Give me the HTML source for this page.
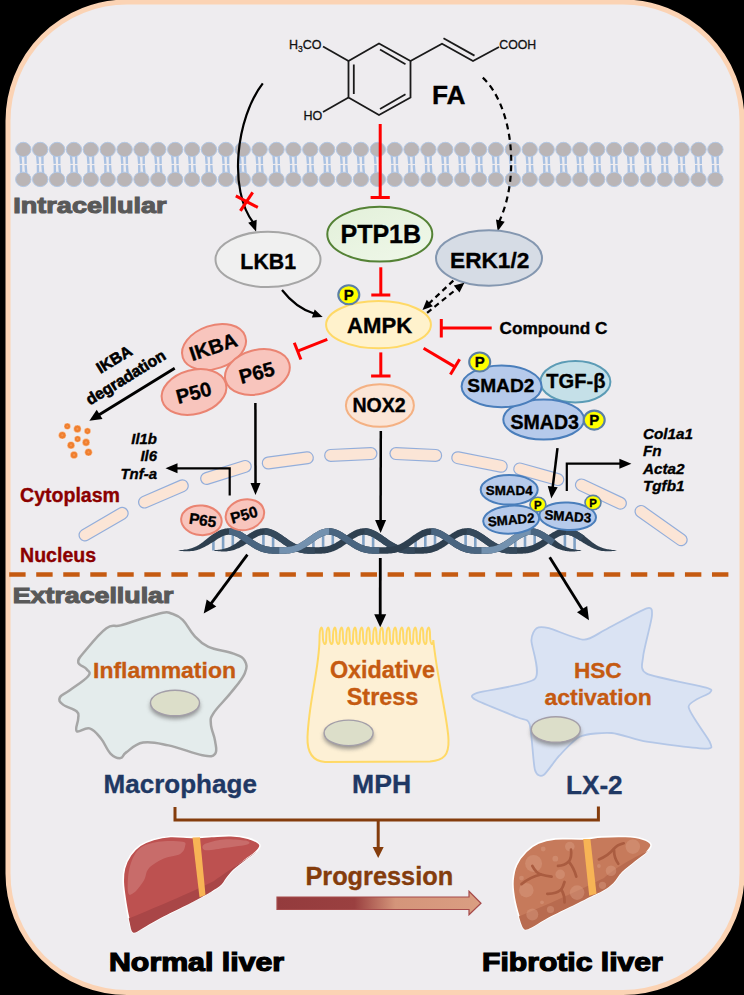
<!DOCTYPE html>
<html><head><meta charset="utf-8"><style>html,body{margin:0;padding:0;background:#000;width:744px;height:995px;overflow:hidden}svg{display:block}text{font-family:"Liberation Sans",sans-serif}</style></head>
<body><svg width="744" height="995" viewBox="0 0 744 995" font-family='"Liberation Sans", sans-serif'><rect x="0" y="0" width="744" height="995" fill="#000"/>
<rect x="8" y="2" width="734" height="990.5" rx="119" ry="119" fill="#EEECEF" stroke="#FBD3B4" stroke-width="5"/>
<path d="M20.3 155 L21.0 163.9 M21.0 165.1 L21.1 174" stroke="#A9C1E2" stroke-width="2.4" fill="none"/>
<path d="M25.5 155 L25.6 163.9 M25.6 165.1 L26.3 174" stroke="#A9C1E2" stroke-width="2.4" fill="none"/>
<path d="M37.2 155 L37.9 163.9 M37.9 165.1 L38.0 174" stroke="#A9C1E2" stroke-width="2.4" fill="none"/>
<path d="M42.4 155 L42.5 163.9 M42.5 165.1 L43.2 174" stroke="#A9C1E2" stroke-width="2.4" fill="none"/>
<path d="M54.1 155 L54.8 163.9 M54.8 165.1 L54.9 174" stroke="#A9C1E2" stroke-width="2.4" fill="none"/>
<path d="M59.3 155 L59.3 163.9 M59.3 165.1 L60.1 174" stroke="#A9C1E2" stroke-width="2.4" fill="none"/>
<path d="M70.9 155 L71.7 163.9 M71.7 165.1 L71.7 174" stroke="#A9C1E2" stroke-width="2.4" fill="none"/>
<path d="M76.1 155 L76.2 163.9 M76.2 165.1 L76.9 174" stroke="#A9C1E2" stroke-width="2.4" fill="none"/>
<path d="M87.8 155 L88.5 163.9 M88.5 165.1 L88.6 174" stroke="#A9C1E2" stroke-width="2.4" fill="none"/>
<path d="M93.0 155 L93.1 163.9 M93.1 165.1 L93.8 174" stroke="#A9C1E2" stroke-width="2.4" fill="none"/>
<path d="M104.7 155 L105.4 163.9 M105.4 165.1 L105.5 174" stroke="#A9C1E2" stroke-width="2.4" fill="none"/>
<path d="M109.9 155 L110.0 163.9 M110.0 165.1 L110.7 174" stroke="#A9C1E2" stroke-width="2.4" fill="none"/>
<path d="M121.6 155 L122.3 163.9 M122.3 165.1 L122.4 174" stroke="#A9C1E2" stroke-width="2.4" fill="none"/>
<path d="M126.8 155 L126.9 163.9 M126.9 165.1 L127.6 174" stroke="#A9C1E2" stroke-width="2.4" fill="none"/>
<path d="M138.5 155 L139.2 163.9 M139.2 165.1 L139.3 174" stroke="#A9C1E2" stroke-width="2.4" fill="none"/>
<path d="M143.7 155 L143.7 163.9 M143.7 165.1 L144.5 174" stroke="#A9C1E2" stroke-width="2.4" fill="none"/>
<path d="M155.3 155 L156.1 163.9 M156.1 165.1 L156.1 174" stroke="#A9C1E2" stroke-width="2.4" fill="none"/>
<path d="M160.5 155 L160.6 163.9 M160.6 165.1 L161.3 174" stroke="#A9C1E2" stroke-width="2.4" fill="none"/>
<path d="M172.2 155 L172.9 163.9 M172.9 165.1 L173.0 174" stroke="#A9C1E2" stroke-width="2.4" fill="none"/>
<path d="M177.4 155 L177.5 163.9 M177.5 165.1 L178.2 174" stroke="#A9C1E2" stroke-width="2.4" fill="none"/>
<path d="M189.1 155 L189.8 163.9 M189.8 165.1 L189.9 174" stroke="#A9C1E2" stroke-width="2.4" fill="none"/>
<path d="M194.3 155 L194.4 163.9 M194.4 165.1 L195.1 174" stroke="#A9C1E2" stroke-width="2.4" fill="none"/>
<path d="M206.0 155 L206.7 163.9 M206.7 165.1 L206.8 174" stroke="#A9C1E2" stroke-width="2.4" fill="none"/>
<path d="M211.2 155 L211.3 163.9 M211.3 165.1 L212.0 174" stroke="#A9C1E2" stroke-width="2.4" fill="none"/>
<path d="M222.9 155 L223.6 163.9 M223.6 165.1 L223.7 174" stroke="#A9C1E2" stroke-width="2.4" fill="none"/>
<path d="M228.1 155 L228.1 163.9 M228.1 165.1 L228.9 174" stroke="#A9C1E2" stroke-width="2.4" fill="none"/>
<path d="M239.7 155 L240.5 163.9 M240.5 165.1 L240.5 174" stroke="#A9C1E2" stroke-width="2.4" fill="none"/>
<path d="M244.9 155 L245.0 163.9 M245.0 165.1 L245.7 174" stroke="#A9C1E2" stroke-width="2.4" fill="none"/>
<path d="M256.6 155 L257.3 163.9 M257.3 165.1 L257.4 174" stroke="#A9C1E2" stroke-width="2.4" fill="none"/>
<path d="M261.8 155 L261.9 163.9 M261.9 165.1 L262.6 174" stroke="#A9C1E2" stroke-width="2.4" fill="none"/>
<path d="M273.5 155 L274.2 163.9 M274.2 165.1 L274.3 174" stroke="#A9C1E2" stroke-width="2.4" fill="none"/>
<path d="M278.7 155 L278.8 163.9 M278.8 165.1 L279.5 174" stroke="#A9C1E2" stroke-width="2.4" fill="none"/>
<path d="M290.4 155 L291.1 163.9 M291.1 165.1 L291.2 174" stroke="#A9C1E2" stroke-width="2.4" fill="none"/>
<path d="M295.6 155 L295.7 163.9 M295.7 165.1 L296.4 174" stroke="#A9C1E2" stroke-width="2.4" fill="none"/>
<path d="M307.3 155 L308.0 163.9 M308.0 165.1 L308.1 174" stroke="#A9C1E2" stroke-width="2.4" fill="none"/>
<path d="M312.5 155 L312.5 163.9 M312.5 165.1 L313.3 174" stroke="#A9C1E2" stroke-width="2.4" fill="none"/>
<path d="M324.1 155 L324.9 163.9 M324.9 165.1 L324.9 174" stroke="#A9C1E2" stroke-width="2.4" fill="none"/>
<path d="M329.3 155 L329.4 163.9 M329.4 165.1 L330.1 174" stroke="#A9C1E2" stroke-width="2.4" fill="none"/>
<path d="M341.0 155 L341.7 163.9 M341.7 165.1 L341.8 174" stroke="#A9C1E2" stroke-width="2.4" fill="none"/>
<path d="M346.2 155 L346.3 163.9 M346.3 165.1 L347.0 174" stroke="#A9C1E2" stroke-width="2.4" fill="none"/>
<path d="M357.9 155 L358.6 163.9 M358.6 165.1 L358.7 174" stroke="#A9C1E2" stroke-width="2.4" fill="none"/>
<path d="M363.1 155 L363.2 163.9 M363.2 165.1 L363.9 174" stroke="#A9C1E2" stroke-width="2.4" fill="none"/>
<path d="M374.8 155 L375.5 163.9 M375.5 165.1 L375.6 174" stroke="#A9C1E2" stroke-width="2.4" fill="none"/>
<path d="M380.0 155 L380.1 163.9 M380.1 165.1 L380.8 174" stroke="#A9C1E2" stroke-width="2.4" fill="none"/>
<path d="M391.7 155 L392.4 163.9 M392.4 165.1 L392.5 174" stroke="#A9C1E2" stroke-width="2.4" fill="none"/>
<path d="M396.9 155 L396.9 163.9 M396.9 165.1 L397.7 174" stroke="#A9C1E2" stroke-width="2.4" fill="none"/>
<path d="M408.5 155 L409.3 163.9 M409.3 165.1 L409.3 174" stroke="#A9C1E2" stroke-width="2.4" fill="none"/>
<path d="M413.7 155 L413.8 163.9 M413.8 165.1 L414.5 174" stroke="#A9C1E2" stroke-width="2.4" fill="none"/>
<path d="M425.4 155 L426.1 163.9 M426.1 165.1 L426.2 174" stroke="#A9C1E2" stroke-width="2.4" fill="none"/>
<path d="M430.6 155 L430.7 163.9 M430.7 165.1 L431.4 174" stroke="#A9C1E2" stroke-width="2.4" fill="none"/>
<path d="M442.3 155 L443.0 163.9 M443.0 165.1 L443.1 174" stroke="#A9C1E2" stroke-width="2.4" fill="none"/>
<path d="M447.5 155 L447.6 163.9 M447.6 165.1 L448.3 174" stroke="#A9C1E2" stroke-width="2.4" fill="none"/>
<path d="M459.2 155 L459.9 163.9 M459.9 165.1 L460.0 174" stroke="#A9C1E2" stroke-width="2.4" fill="none"/>
<path d="M464.4 155 L464.5 163.9 M464.5 165.1 L465.2 174" stroke="#A9C1E2" stroke-width="2.4" fill="none"/>
<path d="M476.1 155 L476.8 163.9 M476.8 165.1 L476.9 174" stroke="#A9C1E2" stroke-width="2.4" fill="none"/>
<path d="M481.3 155 L481.3 163.9 M481.3 165.1 L482.1 174" stroke="#A9C1E2" stroke-width="2.4" fill="none"/>
<path d="M492.9 155 L493.7 163.9 M493.7 165.1 L493.7 174" stroke="#A9C1E2" stroke-width="2.4" fill="none"/>
<path d="M498.1 155 L498.2 163.9 M498.2 165.1 L498.9 174" stroke="#A9C1E2" stroke-width="2.4" fill="none"/>
<path d="M509.8 155 L510.5 163.9 M510.5 165.1 L510.6 174" stroke="#A9C1E2" stroke-width="2.4" fill="none"/>
<path d="M515.0 155 L515.1 163.9 M515.1 165.1 L515.8 174" stroke="#A9C1E2" stroke-width="2.4" fill="none"/>
<path d="M526.7 155 L527.4 163.9 M527.4 165.1 L527.5 174" stroke="#A9C1E2" stroke-width="2.4" fill="none"/>
<path d="M531.9 155 L532.0 163.9 M532.0 165.1 L532.7 174" stroke="#A9C1E2" stroke-width="2.4" fill="none"/>
<path d="M543.6 155 L544.3 163.9 M544.3 165.1 L544.4 174" stroke="#A9C1E2" stroke-width="2.4" fill="none"/>
<path d="M548.8 155 L548.9 163.9 M548.9 165.1 L549.6 174" stroke="#A9C1E2" stroke-width="2.4" fill="none"/>
<path d="M560.5 155 L561.2 163.9 M561.2 165.1 L561.3 174" stroke="#A9C1E2" stroke-width="2.4" fill="none"/>
<path d="M565.7 155 L565.7 163.9 M565.7 165.1 L566.5 174" stroke="#A9C1E2" stroke-width="2.4" fill="none"/>
<path d="M577.3 155 L578.1 163.9 M578.1 165.1 L578.1 174" stroke="#A9C1E2" stroke-width="2.4" fill="none"/>
<path d="M582.5 155 L582.6 163.9 M582.6 165.1 L583.3 174" stroke="#A9C1E2" stroke-width="2.4" fill="none"/>
<path d="M594.2 155 L594.9 163.9 M594.9 165.1 L595.0 174" stroke="#A9C1E2" stroke-width="2.4" fill="none"/>
<path d="M599.4 155 L599.5 163.9 M599.5 165.1 L600.2 174" stroke="#A9C1E2" stroke-width="2.4" fill="none"/>
<path d="M611.1 155 L611.8 163.9 M611.8 165.1 L611.9 174" stroke="#A9C1E2" stroke-width="2.4" fill="none"/>
<path d="M616.3 155 L616.4 163.9 M616.4 165.1 L617.1 174" stroke="#A9C1E2" stroke-width="2.4" fill="none"/>
<path d="M628.0 155 L628.7 163.9 M628.7 165.1 L628.8 174" stroke="#A9C1E2" stroke-width="2.4" fill="none"/>
<path d="M633.2 155 L633.3 163.9 M633.3 165.1 L634.0 174" stroke="#A9C1E2" stroke-width="2.4" fill="none"/>
<path d="M644.9 155 L645.6 163.9 M645.6 165.1 L645.7 174" stroke="#A9C1E2" stroke-width="2.4" fill="none"/>
<path d="M650.1 155 L650.1 163.9 M650.1 165.1 L650.9 174" stroke="#A9C1E2" stroke-width="2.4" fill="none"/>
<path d="M661.7 155 L662.5 163.9 M662.5 165.1 L662.5 174" stroke="#A9C1E2" stroke-width="2.4" fill="none"/>
<path d="M666.9 155 L667.0 163.9 M667.0 165.1 L667.7 174" stroke="#A9C1E2" stroke-width="2.4" fill="none"/>
<path d="M678.6 155 L679.3 163.9 M679.3 165.1 L679.4 174" stroke="#A9C1E2" stroke-width="2.4" fill="none"/>
<path d="M683.8 155 L683.9 163.9 M683.9 165.1 L684.6 174" stroke="#A9C1E2" stroke-width="2.4" fill="none"/>
<path d="M695.5 155 L696.2 163.9 M696.2 165.1 L696.3 174" stroke="#A9C1E2" stroke-width="2.4" fill="none"/>
<path d="M700.7 155 L700.8 163.9 M700.8 165.1 L701.5 174" stroke="#A9C1E2" stroke-width="2.4" fill="none"/>
<path d="M712.4 155 L713.1 163.9 M713.1 165.1 L713.2 174" stroke="#A9C1E2" stroke-width="2.4" fill="none"/>
<path d="M717.6 155 L717.7 163.9 M717.7 165.1 L718.4 174" stroke="#A9C1E2" stroke-width="2.4" fill="none"/>
<ellipse cx="23.3" cy="149.5" rx="7.7" ry="7.2" fill="#BAB5B6" stroke="#B2C8E6" stroke-width="1"/>
<ellipse cx="23.3" cy="179.4" rx="7.7" ry="7.2" fill="#BAB5B6" stroke="#B2C8E6" stroke-width="1"/>
<ellipse cx="40.2" cy="149.5" rx="7.7" ry="7.2" fill="#BAB5B6" stroke="#B2C8E6" stroke-width="1"/>
<ellipse cx="40.2" cy="179.4" rx="7.7" ry="7.2" fill="#BAB5B6" stroke="#B2C8E6" stroke-width="1"/>
<ellipse cx="57.1" cy="149.5" rx="7.7" ry="7.2" fill="#BAB5B6" stroke="#B2C8E6" stroke-width="1"/>
<ellipse cx="57.1" cy="179.4" rx="7.7" ry="7.2" fill="#BAB5B6" stroke="#B2C8E6" stroke-width="1"/>
<ellipse cx="73.9" cy="149.5" rx="7.7" ry="7.2" fill="#BAB5B6" stroke="#B2C8E6" stroke-width="1"/>
<ellipse cx="73.9" cy="179.4" rx="7.7" ry="7.2" fill="#BAB5B6" stroke="#B2C8E6" stroke-width="1"/>
<ellipse cx="90.8" cy="149.5" rx="7.7" ry="7.2" fill="#BAB5B6" stroke="#B2C8E6" stroke-width="1"/>
<ellipse cx="90.8" cy="179.4" rx="7.7" ry="7.2" fill="#BAB5B6" stroke="#B2C8E6" stroke-width="1"/>
<ellipse cx="107.7" cy="149.5" rx="7.7" ry="7.2" fill="#BAB5B6" stroke="#B2C8E6" stroke-width="1"/>
<ellipse cx="107.7" cy="179.4" rx="7.7" ry="7.2" fill="#BAB5B6" stroke="#B2C8E6" stroke-width="1"/>
<ellipse cx="124.6" cy="149.5" rx="7.7" ry="7.2" fill="#BAB5B6" stroke="#B2C8E6" stroke-width="1"/>
<ellipse cx="124.6" cy="179.4" rx="7.7" ry="7.2" fill="#BAB5B6" stroke="#B2C8E6" stroke-width="1"/>
<ellipse cx="141.5" cy="149.5" rx="7.7" ry="7.2" fill="#BAB5B6" stroke="#B2C8E6" stroke-width="1"/>
<ellipse cx="141.5" cy="179.4" rx="7.7" ry="7.2" fill="#BAB5B6" stroke="#B2C8E6" stroke-width="1"/>
<ellipse cx="158.3" cy="149.5" rx="7.7" ry="7.2" fill="#BAB5B6" stroke="#B2C8E6" stroke-width="1"/>
<ellipse cx="158.3" cy="179.4" rx="7.7" ry="7.2" fill="#BAB5B6" stroke="#B2C8E6" stroke-width="1"/>
<ellipse cx="175.2" cy="149.5" rx="7.7" ry="7.2" fill="#BAB5B6" stroke="#B2C8E6" stroke-width="1"/>
<ellipse cx="175.2" cy="179.4" rx="7.7" ry="7.2" fill="#BAB5B6" stroke="#B2C8E6" stroke-width="1"/>
<ellipse cx="192.1" cy="149.5" rx="7.7" ry="7.2" fill="#BAB5B6" stroke="#B2C8E6" stroke-width="1"/>
<ellipse cx="192.1" cy="179.4" rx="7.7" ry="7.2" fill="#BAB5B6" stroke="#B2C8E6" stroke-width="1"/>
<ellipse cx="209.0" cy="149.5" rx="7.7" ry="7.2" fill="#BAB5B6" stroke="#B2C8E6" stroke-width="1"/>
<ellipse cx="209.0" cy="179.4" rx="7.7" ry="7.2" fill="#BAB5B6" stroke="#B2C8E6" stroke-width="1"/>
<ellipse cx="225.9" cy="149.5" rx="7.7" ry="7.2" fill="#BAB5B6" stroke="#B2C8E6" stroke-width="1"/>
<ellipse cx="225.9" cy="179.4" rx="7.7" ry="7.2" fill="#BAB5B6" stroke="#B2C8E6" stroke-width="1"/>
<ellipse cx="242.7" cy="149.5" rx="7.7" ry="7.2" fill="#BAB5B6" stroke="#B2C8E6" stroke-width="1"/>
<ellipse cx="242.7" cy="179.4" rx="7.7" ry="7.2" fill="#BAB5B6" stroke="#B2C8E6" stroke-width="1"/>
<ellipse cx="259.6" cy="149.5" rx="7.7" ry="7.2" fill="#BAB5B6" stroke="#B2C8E6" stroke-width="1"/>
<ellipse cx="259.6" cy="179.4" rx="7.7" ry="7.2" fill="#BAB5B6" stroke="#B2C8E6" stroke-width="1"/>
<ellipse cx="276.5" cy="149.5" rx="7.7" ry="7.2" fill="#BAB5B6" stroke="#B2C8E6" stroke-width="1"/>
<ellipse cx="276.5" cy="179.4" rx="7.7" ry="7.2" fill="#BAB5B6" stroke="#B2C8E6" stroke-width="1"/>
<ellipse cx="293.4" cy="149.5" rx="7.7" ry="7.2" fill="#BAB5B6" stroke="#B2C8E6" stroke-width="1"/>
<ellipse cx="293.4" cy="179.4" rx="7.7" ry="7.2" fill="#BAB5B6" stroke="#B2C8E6" stroke-width="1"/>
<ellipse cx="310.3" cy="149.5" rx="7.7" ry="7.2" fill="#BAB5B6" stroke="#B2C8E6" stroke-width="1"/>
<ellipse cx="310.3" cy="179.4" rx="7.7" ry="7.2" fill="#BAB5B6" stroke="#B2C8E6" stroke-width="1"/>
<ellipse cx="327.1" cy="149.5" rx="7.7" ry="7.2" fill="#BAB5B6" stroke="#B2C8E6" stroke-width="1"/>
<ellipse cx="327.1" cy="179.4" rx="7.7" ry="7.2" fill="#BAB5B6" stroke="#B2C8E6" stroke-width="1"/>
<ellipse cx="344.0" cy="149.5" rx="7.7" ry="7.2" fill="#BAB5B6" stroke="#B2C8E6" stroke-width="1"/>
<ellipse cx="344.0" cy="179.4" rx="7.7" ry="7.2" fill="#BAB5B6" stroke="#B2C8E6" stroke-width="1"/>
<ellipse cx="360.9" cy="149.5" rx="7.7" ry="7.2" fill="#BAB5B6" stroke="#B2C8E6" stroke-width="1"/>
<ellipse cx="360.9" cy="179.4" rx="7.7" ry="7.2" fill="#BAB5B6" stroke="#B2C8E6" stroke-width="1"/>
<ellipse cx="377.8" cy="149.5" rx="7.7" ry="7.2" fill="#BAB5B6" stroke="#B2C8E6" stroke-width="1"/>
<ellipse cx="377.8" cy="179.4" rx="7.7" ry="7.2" fill="#BAB5B6" stroke="#B2C8E6" stroke-width="1"/>
<ellipse cx="394.7" cy="149.5" rx="7.7" ry="7.2" fill="#BAB5B6" stroke="#B2C8E6" stroke-width="1"/>
<ellipse cx="394.7" cy="179.4" rx="7.7" ry="7.2" fill="#BAB5B6" stroke="#B2C8E6" stroke-width="1"/>
<ellipse cx="411.5" cy="149.5" rx="7.7" ry="7.2" fill="#BAB5B6" stroke="#B2C8E6" stroke-width="1"/>
<ellipse cx="411.5" cy="179.4" rx="7.7" ry="7.2" fill="#BAB5B6" stroke="#B2C8E6" stroke-width="1"/>
<ellipse cx="428.4" cy="149.5" rx="7.7" ry="7.2" fill="#BAB5B6" stroke="#B2C8E6" stroke-width="1"/>
<ellipse cx="428.4" cy="179.4" rx="7.7" ry="7.2" fill="#BAB5B6" stroke="#B2C8E6" stroke-width="1"/>
<ellipse cx="445.3" cy="149.5" rx="7.7" ry="7.2" fill="#BAB5B6" stroke="#B2C8E6" stroke-width="1"/>
<ellipse cx="445.3" cy="179.4" rx="7.7" ry="7.2" fill="#BAB5B6" stroke="#B2C8E6" stroke-width="1"/>
<ellipse cx="462.2" cy="149.5" rx="7.7" ry="7.2" fill="#BAB5B6" stroke="#B2C8E6" stroke-width="1"/>
<ellipse cx="462.2" cy="179.4" rx="7.7" ry="7.2" fill="#BAB5B6" stroke="#B2C8E6" stroke-width="1"/>
<ellipse cx="479.1" cy="149.5" rx="7.7" ry="7.2" fill="#BAB5B6" stroke="#B2C8E6" stroke-width="1"/>
<ellipse cx="479.1" cy="179.4" rx="7.7" ry="7.2" fill="#BAB5B6" stroke="#B2C8E6" stroke-width="1"/>
<ellipse cx="495.9" cy="149.5" rx="7.7" ry="7.2" fill="#BAB5B6" stroke="#B2C8E6" stroke-width="1"/>
<ellipse cx="495.9" cy="179.4" rx="7.7" ry="7.2" fill="#BAB5B6" stroke="#B2C8E6" stroke-width="1"/>
<ellipse cx="512.8" cy="149.5" rx="7.7" ry="7.2" fill="#BAB5B6" stroke="#B2C8E6" stroke-width="1"/>
<ellipse cx="512.8" cy="179.4" rx="7.7" ry="7.2" fill="#BAB5B6" stroke="#B2C8E6" stroke-width="1"/>
<ellipse cx="529.7" cy="149.5" rx="7.7" ry="7.2" fill="#BAB5B6" stroke="#B2C8E6" stroke-width="1"/>
<ellipse cx="529.7" cy="179.4" rx="7.7" ry="7.2" fill="#BAB5B6" stroke="#B2C8E6" stroke-width="1"/>
<ellipse cx="546.6" cy="149.5" rx="7.7" ry="7.2" fill="#BAB5B6" stroke="#B2C8E6" stroke-width="1"/>
<ellipse cx="546.6" cy="179.4" rx="7.7" ry="7.2" fill="#BAB5B6" stroke="#B2C8E6" stroke-width="1"/>
<ellipse cx="563.5" cy="149.5" rx="7.7" ry="7.2" fill="#BAB5B6" stroke="#B2C8E6" stroke-width="1"/>
<ellipse cx="563.5" cy="179.4" rx="7.7" ry="7.2" fill="#BAB5B6" stroke="#B2C8E6" stroke-width="1"/>
<ellipse cx="580.3" cy="149.5" rx="7.7" ry="7.2" fill="#BAB5B6" stroke="#B2C8E6" stroke-width="1"/>
<ellipse cx="580.3" cy="179.4" rx="7.7" ry="7.2" fill="#BAB5B6" stroke="#B2C8E6" stroke-width="1"/>
<ellipse cx="597.2" cy="149.5" rx="7.7" ry="7.2" fill="#BAB5B6" stroke="#B2C8E6" stroke-width="1"/>
<ellipse cx="597.2" cy="179.4" rx="7.7" ry="7.2" fill="#BAB5B6" stroke="#B2C8E6" stroke-width="1"/>
<ellipse cx="614.1" cy="149.5" rx="7.7" ry="7.2" fill="#BAB5B6" stroke="#B2C8E6" stroke-width="1"/>
<ellipse cx="614.1" cy="179.4" rx="7.7" ry="7.2" fill="#BAB5B6" stroke="#B2C8E6" stroke-width="1"/>
<ellipse cx="631.0" cy="149.5" rx="7.7" ry="7.2" fill="#BAB5B6" stroke="#B2C8E6" stroke-width="1"/>
<ellipse cx="631.0" cy="179.4" rx="7.7" ry="7.2" fill="#BAB5B6" stroke="#B2C8E6" stroke-width="1"/>
<ellipse cx="647.9" cy="149.5" rx="7.7" ry="7.2" fill="#BAB5B6" stroke="#B2C8E6" stroke-width="1"/>
<ellipse cx="647.9" cy="179.4" rx="7.7" ry="7.2" fill="#BAB5B6" stroke="#B2C8E6" stroke-width="1"/>
<ellipse cx="664.7" cy="149.5" rx="7.7" ry="7.2" fill="#BAB5B6" stroke="#B2C8E6" stroke-width="1"/>
<ellipse cx="664.7" cy="179.4" rx="7.7" ry="7.2" fill="#BAB5B6" stroke="#B2C8E6" stroke-width="1"/>
<ellipse cx="681.6" cy="149.5" rx="7.7" ry="7.2" fill="#BAB5B6" stroke="#B2C8E6" stroke-width="1"/>
<ellipse cx="681.6" cy="179.4" rx="7.7" ry="7.2" fill="#BAB5B6" stroke="#B2C8E6" stroke-width="1"/>
<ellipse cx="698.5" cy="149.5" rx="7.7" ry="7.2" fill="#BAB5B6" stroke="#B2C8E6" stroke-width="1"/>
<ellipse cx="698.5" cy="179.4" rx="7.7" ry="7.2" fill="#BAB5B6" stroke="#B2C8E6" stroke-width="1"/>
<ellipse cx="715.4" cy="149.5" rx="7.7" ry="7.2" fill="#BAB5B6" stroke="#B2C8E6" stroke-width="1"/>
<ellipse cx="715.4" cy="179.4" rx="7.7" ry="7.2" fill="#BAB5B6" stroke="#B2C8E6" stroke-width="1"/>
<polygon points="379,43.5 410.5,61 410.5,97.5 379,115 348.5,97.5 348.5,61" fill="none" stroke="#1A1A1A" stroke-width="1.8"/>
<line x1="353.8" y1="64.5" x2="353.8" y2="94.0" stroke="#1A1A1A" stroke-width="1.8" />
<line x1="380.0" y1="49.5" x2="405.5" y2="64.3" stroke="#1A1A1A" stroke-width="1.8" />
<line x1="405.5" y1="94.2" x2="380.0" y2="109.0" stroke="#1A1A1A" stroke-width="1.8" />
<line x1="348.5" y1="61.0" x2="323.0" y2="46.5" stroke="#1A1A1A" stroke-width="1.8" />
<line x1="348.5" y1="97.5" x2="323.0" y2="112.0" stroke="#1A1A1A" stroke-width="1.8" />
<polyline points="410.5,61 442,43.7 473,61 499,47" fill="none" stroke="#1A1A1A" stroke-width="1.8"/>
<line x1="443.5" y1="38.2" x2="474.5" y2="55.6" stroke="#1A1A1A" stroke-width="1.8" />
<text x="289" y="48.5" font-size="12.5" fill="#111" stroke="#111" stroke-width="0.3">H<tspan font-size="8.5" dy="3">3</tspan><tspan dy="-3">CO</tspan></text>
<text x="303.5" y="120.0" font-size="12.5" font-weight="normal" font-style="normal" fill="#111" text-anchor="start" stroke="#111" stroke-width="0.3">HO</text>
<text x="499.3" y="48.5" font-size="12.3" font-weight="normal" font-style="normal" fill="#111" text-anchor="start" stroke="#111" stroke-width="0.3">COOH</text>
<text x="432.0" y="104.3" font-size="26.27" font-weight="bold" font-style="normal" fill="#000" text-anchor="start"  stroke="#000" stroke-width="0.35">FA</text>
<path d="M262.8 83.4 C236 118, 228 190, 253.5 223" fill="none" stroke="#000" stroke-width="2.2"/>
<polygon points="256.1,231.7 248.2,222.8 256.7,219.8" fill="#000"/>
<line x1="235.8" y1="195.9" x2="257.8" y2="207.4" stroke="#FF0000" stroke-width="3" />
<line x1="240.4" y1="210.9" x2="252.7" y2="192.4" stroke="#FF0000" stroke-width="3" />
<line x1="380.2" y1="124.0" x2="380.2" y2="197.5" stroke="#FF0000" stroke-width="3" />
<line x1="370.6" y1="197.5" x2="389.8" y2="197.5" stroke="#FF0000" stroke-width="3" />
<path d="M482.8 77.6 C512 105, 521 175, 499 222" fill="none" stroke="#000" stroke-width="2.2" stroke-dasharray="6,4.5"/>
<polygon points="497.7,231.3 496.0,219.5 504.7,221.7" fill="#000"/>
<defs><linearGradient id="gG" x1="0" y1="0" x2="1" y2="1"><stop offset="0" stop-color="#E2F0D9"/><stop offset="1" stop-color="#F0F8EA"/></linearGradient></defs>
<ellipse cx="268" cy="259.4" rx="52.5" ry="27.7" fill="#F0F0F0" stroke="#A6A6A6" stroke-width="2" />
<text x="268.2" y="268.7" font-size="21.32" font-weight="bold" font-style="normal" fill="#000" text-anchor="middle"  stroke="#000" stroke-width="0.35">LKB1</text>
<ellipse cx="379.8" cy="234.2" rx="52.5" ry="27.4" fill="url(#gG)" stroke="#548235" stroke-width="2" />
<text x="380.8" y="242.6" font-size="25.03" font-weight="bold" font-style="normal" fill="#000" text-anchor="middle"  stroke="#000" stroke-width="0.35">PTP1B</text>
<ellipse cx="489" cy="258" rx="53" ry="27.7" fill="#D6DCE5" stroke="#8497B0" stroke-width="2" />
<text x="489.7" y="267.5" font-size="22.66" font-weight="bold" font-style="normal" fill="#000" text-anchor="middle"  stroke="#000" stroke-width="0.35">ERK1/2</text>
<line x1="380.8" y1="267.3" x2="380.8" y2="295.0" stroke="#FF0000" stroke-width="3" />
<line x1="371.3" y1="295.0" x2="390.3" y2="295.0" stroke="#FF0000" stroke-width="3" />
<ellipse cx="378.5" cy="324.7" rx="52.4" ry="23.6" fill="#FFF2CC" stroke="#FFD966" stroke-width="2" />
<text x="379.7" y="332.6" font-size="22.14" font-weight="bold" font-style="normal" fill="#000" text-anchor="middle"  stroke="#000" stroke-width="0.35">AMPK</text>
<ellipse cx="348.8" cy="294.8" rx="10.50" ry="9.50" fill="#FFFF00" stroke="#5B7FA6" stroke-width="2.1"/>
<text x="348.8" y="300.0" font-size="14.94" font-weight="bold" font-style="normal" fill="#000" text-anchor="middle"  stroke="#000" stroke-width="0.35">P</text>
<path d="M282 290 Q296 308 314 313.5" fill="none" stroke="#000" stroke-width="2.2"/>
<polygon points="322.7,316.9 311.9,317.6 314.7,309.6" fill="#000"/>
<line x1="453.3" y1="280.6" x2="429" y2="303.5" stroke="#000" stroke-width="2.2" stroke-dasharray="5.5,4"/>
<polygon points="422.5,309.9 426.7,299.8 432.9,306.3" fill="#000"/>
<line x1="427.1" y1="312.9" x2="457.5" y2="288.3" stroke="#000" stroke-width="2.2" stroke-dasharray="5.5,4"/>
<polygon points="464.4,282.7 459.5,292.5 453.8,285.5" fill="#000"/>
<line x1="441.3" y1="328.0" x2="491.7" y2="328.0" stroke="#FF0000" stroke-width="3" />
<line x1="441.3" y1="319.0" x2="441.3" y2="337.5" stroke="#FF0000" stroke-width="3" />
<text x="499.5" y="334.0" font-size="17.2" font-weight="bold" font-style="normal" fill="#000" text-anchor="start"  stroke="#000" stroke-width="0.35">Compound C</text>
<line x1="380.8" y1="352.4" x2="380.8" y2="376.0" stroke="#FF0000" stroke-width="3" />
<line x1="371.1" y1="376.0" x2="390.5" y2="376.0" stroke="#FF0000" stroke-width="3" />
<ellipse cx="379.9" cy="405.5" rx="34" ry="21.3" fill="#FBE5D6" stroke="#F4B183" stroke-width="2" />
<text x="379.1" y="411.9" font-size="19.57" font-weight="bold" font-style="normal" fill="#000" text-anchor="middle"  stroke="#000" stroke-width="0.35">NOX2</text>
<line x1="327.3" y1="339.4" x2="297.6" y2="351.1" stroke="#FF0000" stroke-width="3" />
<line x1="294.3" y1="342.7" x2="300.9" y2="359.5" stroke="#FF0000" stroke-width="3" />
<line x1="423.6" y1="348.3" x2="455.0" y2="366.9" stroke="#FF0000" stroke-width="3" />
<line x1="450.4" y1="374.6" x2="459.6" y2="359.2" stroke="#FF0000" stroke-width="3" />
<ellipse cx="575.4" cy="381.7" rx="35" ry="20.7" fill="#C5E0E8" stroke="#5B9BB5" stroke-width="2" />
<text x="575.9" y="387.8" font-size="20.09" font-weight="bold" font-style="normal" fill="#000" text-anchor="middle"  stroke="#000" stroke-width="0.35">TGF-β</text>
<ellipse cx="543.7" cy="419.6" rx="40.4" ry="20" fill="#B6CAEB" stroke="#4A7EBB" stroke-width="2" />
<text x="544.7" y="428.7" font-size="19.57" font-weight="bold" font-style="normal" fill="#000" text-anchor="middle"  stroke="#000" stroke-width="0.35">SMAD3</text>
<ellipse cx="501.6" cy="386.4" rx="40" ry="20.8" fill="#B6CAEB" stroke="#4A7EBB" stroke-width="2" />
<text x="500.9" y="392.4" font-size="19.16" font-weight="bold" font-style="normal" fill="#000" text-anchor="middle"  stroke="#000" stroke-width="0.35">SMAD2</text>
<ellipse cx="479.7" cy="362" rx="10.50" ry="9.50" fill="#FFFF00" stroke="#5B7FA6" stroke-width="2.1"/>
<text x="479.7" y="367.2" font-size="14.94" font-weight="bold" font-style="normal" fill="#000" text-anchor="middle"  stroke="#000" stroke-width="0.35">P</text>
<ellipse cx="594.2" cy="420.1" rx="10.50" ry="9.50" fill="#FFFF00" stroke="#5B7FA6" stroke-width="2.1"/>
<text x="594.2" y="425.3" font-size="14.94" font-weight="bold" font-style="normal" fill="#000" text-anchor="middle"  stroke="#000" stroke-width="0.35">P</text>
<ellipse cx="214" cy="347" rx="33" ry="21.5" fill="#F8C5BD" stroke="#EA8472" stroke-width="2" transform="rotate(-19 214 347)" />
<text x="0.0" y="0.0" font-size="20.09" font-weight="bold" font-style="normal" fill="#000" text-anchor="middle" transform="translate(215.5 353.5) rotate(-18.5)" stroke="#000" stroke-width="0.35">IKBA</text>
<ellipse cx="257.4" cy="372" rx="33" ry="22" fill="#F8C5BD" stroke="#EA8472" stroke-width="2" transform="rotate(-15 257.4 372)" />
<text x="0.0" y="0.0" font-size="20.09" font-weight="bold" font-style="normal" fill="#000" text-anchor="middle" transform="translate(258.5 379.5) rotate(-15)" stroke="#000" stroke-width="0.35">P65</text>
<ellipse cx="194" cy="392" rx="33" ry="22" fill="#F8C5BD" stroke="#EA8472" stroke-width="2" transform="rotate(-15 194 392)" />
<text x="0.0" y="0.0" font-size="20.09" font-weight="bold" font-style="normal" fill="#000" text-anchor="middle" transform="translate(195.5 399.5) rotate(-15)" stroke="#000" stroke-width="0.35">P50</text>
<text x="0.0" y="0.0" font-size="15.8" font-weight="bold" font-style="normal" fill="#000" text-anchor="middle" transform="translate(117 364) rotate(-31.5)" stroke="#000" stroke-width="0.6">IKBA</text>
<text x="0.0" y="0.0" font-size="15.8" font-weight="bold" font-style="normal" fill="#000" text-anchor="middle" transform="translate(128.5 382) rotate(-31.5)" stroke="#000" stroke-width="0.6">degradation</text>
<line x1="174.7" y1="368.3" x2="97.9" y2="415.5" stroke="#000" stroke-width="2.8" />
<polygon points="89.4,420.7 96.7,409.7 102.5,419.1" fill="#000"/>
<circle cx="67.3" cy="426.3" r="3.3" fill="#F07F2E" stroke="#FFFFFF" stroke-opacity="0.5" stroke-width="0.8"/>
<circle cx="67.3" cy="426.3" r="0.90" fill="#F49A5E" opacity="0.8"/>
<circle cx="77.4" cy="428.9" r="3.8" fill="#F07F2E" stroke="#FFFFFF" stroke-opacity="0.5" stroke-width="0.8"/>
<circle cx="77.4" cy="428.9" r="1.05" fill="#F49A5E" opacity="0.8"/>
<circle cx="87.5" cy="431.1" r="3.3" fill="#F07F2E" stroke="#FFFFFF" stroke-opacity="0.5" stroke-width="0.8"/>
<circle cx="87.5" cy="431.1" r="0.90" fill="#F49A5E" opacity="0.8"/>
<circle cx="62.3" cy="435.3" r="3.8" fill="#F07F2E" stroke="#FFFFFF" stroke-opacity="0.5" stroke-width="0.8"/>
<circle cx="62.3" cy="435.3" r="1.05" fill="#F49A5E" opacity="0.8"/>
<circle cx="77.6" cy="439" r="3.3" fill="#F07F2E" stroke="#FFFFFF" stroke-opacity="0.5" stroke-width="0.8"/>
<circle cx="77.6" cy="439" r="0.90" fill="#F49A5E" opacity="0.8"/>
<circle cx="86.1" cy="442.4" r="3.8" fill="#F07F2E" stroke="#FFFFFF" stroke-opacity="0.5" stroke-width="0.8"/>
<circle cx="86.1" cy="442.4" r="1.05" fill="#F49A5E" opacity="0.8"/>
<circle cx="71" cy="445.2" r="3.8" fill="#F07F2E" stroke="#FFFFFF" stroke-opacity="0.5" stroke-width="0.8"/>
<circle cx="71" cy="445.2" r="1.05" fill="#F49A5E" opacity="0.8"/>
<circle cx="88.5" cy="452.3" r="3.8" fill="#F07F2E" stroke="#FFFFFF" stroke-opacity="0.5" stroke-width="0.8"/>
<circle cx="88.5" cy="452.3" r="1.05" fill="#F49A5E" opacity="0.8"/>
<circle cx="74" cy="455" r="3.8" fill="#F07F2E" stroke="#FFFFFF" stroke-opacity="0.5" stroke-width="0.8"/>
<circle cx="74" cy="455" r="1.05" fill="#F49A5E" opacity="0.8"/>
<text x="157.0" y="443.8" font-size="14.94" font-weight="bold" font-style="italic" fill="#000" text-anchor="end"  stroke="#000" stroke-width="0.35">Il1b</text>
<text x="157.0" y="461.2" font-size="14.94" font-weight="bold" font-style="italic" fill="#000" text-anchor="end"  stroke="#000" stroke-width="0.35">Il6</text>
<text x="157.0" y="478.6" font-size="14.94" font-weight="bold" font-style="italic" fill="#000" text-anchor="end"  stroke="#000" stroke-width="0.35">Tnf-a</text>
<text x="643.0" y="438.8" font-size="15.24" font-weight="bold" font-style="italic" fill="#000" text-anchor="start"  stroke="#000" stroke-width="0.35">Col1a1</text>
<text x="643.0" y="456.2" font-size="15.24" font-weight="bold" font-style="italic" fill="#000" text-anchor="start"  stroke="#000" stroke-width="0.35">Fn</text>
<text x="643.0" y="473.5" font-size="15.24" font-weight="bold" font-style="italic" fill="#000" text-anchor="start"  stroke="#000" stroke-width="0.35">Acta2</text>
<text x="643.0" y="490.9" font-size="15.24" font-weight="bold" font-style="italic" fill="#000" text-anchor="start"  stroke="#000" stroke-width="0.35">Tgfb1</text>
<line x1="85.0" y1="535.0" x2="122.2" y2="513.3" stroke="#93AEDB" stroke-width="13" stroke-linecap="round"/>
<line x1="85.0" y1="535.0" x2="122.2" y2="513.3" stroke="#FBE5D6" stroke-width="10.6" stroke-linecap="round"/>
<line x1="144.5" y1="502.1" x2="182.3" y2="485.8" stroke="#93AEDB" stroke-width="13" stroke-linecap="round"/>
<line x1="144.5" y1="502.1" x2="182.3" y2="485.8" stroke="#FBE5D6" stroke-width="10.6" stroke-linecap="round"/>
<line x1="206.6" y1="478.5" x2="245.3" y2="466.4" stroke="#93AEDB" stroke-width="13" stroke-linecap="round"/>
<line x1="206.6" y1="478.5" x2="245.3" y2="466.4" stroke="#FBE5D6" stroke-width="10.6" stroke-linecap="round"/>
<line x1="268.2" y1="463.0" x2="307.4" y2="457.8" stroke="#93AEDB" stroke-width="13" stroke-linecap="round"/>
<line x1="268.2" y1="463.0" x2="307.4" y2="457.8" stroke="#FBE5D6" stroke-width="10.6" stroke-linecap="round"/>
<line x1="330.6" y1="455.4" x2="371.0" y2="453.6" stroke="#93AEDB" stroke-width="13" stroke-linecap="round"/>
<line x1="330.6" y1="455.4" x2="371.0" y2="453.6" stroke="#FBE5D6" stroke-width="10.6" stroke-linecap="round"/>
<line x1="395.9" y1="453.6" x2="435.7" y2="455.4" stroke="#93AEDB" stroke-width="13" stroke-linecap="round"/>
<line x1="395.9" y1="453.6" x2="435.7" y2="455.4" stroke="#FBE5D6" stroke-width="10.6" stroke-linecap="round"/>
<line x1="457.7" y1="457.7" x2="501.3" y2="466.3" stroke="#93AEDB" stroke-width="13" stroke-linecap="round"/>
<line x1="457.7" y1="457.7" x2="501.3" y2="466.3" stroke="#FBE5D6" stroke-width="10.6" stroke-linecap="round"/>
<line x1="519.7" y1="468.9" x2="557.9" y2="479.6" stroke="#93AEDB" stroke-width="13" stroke-linecap="round"/>
<line x1="519.7" y1="468.9" x2="557.9" y2="479.6" stroke="#FBE5D6" stroke-width="10.6" stroke-linecap="round"/>
<line x1="581.4" y1="484.9" x2="620.4" y2="503.2" stroke="#93AEDB" stroke-width="13" stroke-linecap="round"/>
<line x1="581.4" y1="484.9" x2="620.4" y2="503.2" stroke="#FBE5D6" stroke-width="10.6" stroke-linecap="round"/>
<line x1="641.0" y1="511.4" x2="681.2" y2="539.8" stroke="#93AEDB" stroke-width="13" stroke-linecap="round"/>
<line x1="641.0" y1="511.4" x2="681.2" y2="539.8" stroke="#FBE5D6" stroke-width="10.6" stroke-linecap="round"/>
<text x="20.0" y="502.0" font-size="19.57" font-weight="bold" font-style="normal" fill="#8B0000" text-anchor="start"  stroke="#8B0000" stroke-width="0.35">Cytoplasm</text>
<text x="20.0" y="562.0" font-size="19.57" font-weight="bold" font-style="normal" fill="#8B0000" text-anchor="start"  stroke="#8B0000" stroke-width="0.35">Nucleus</text>
<line x1="255.4" y1="403.0" x2="255.5" y2="485.0" stroke="#000" stroke-width="2.5" />
<polygon points="255.5,495.0 250.5,483.0 260.5,483.0" fill="#000"/>
<polyline points="229.7,495.6 229.7,468.3 176,468.3" fill="none" stroke="#000" stroke-width="2.2"/>
<polygon points="165.5,468.3 177.5,463.3 177.5,473.3" fill="#000"/>
<line x1="380.8" y1="431.0" x2="380.6" y2="522.1" stroke="#000" stroke-width="2.5" />
<polygon points="380.6,533.1 375.1,520.1 386.1,520.1" fill="#000"/>
<line x1="557.5" y1="448.2" x2="552.5" y2="488.6" stroke="#000" stroke-width="2.5" />
<polygon points="551.3,498.5 547.8,486.0 557.7,487.2" fill="#000"/>
<polyline points="566.8,491 566.8,463.7 620,463.7" fill="none" stroke="#000" stroke-width="2.2"/>
<polygon points="631.4,463.7 619.4,468.7 619.4,458.7" fill="#000"/>
<line x1="213.4" y1="537.9" x2="213.4" y2="550.5" stroke="#7FA0C3" stroke-width="2.6"/><line x1="223.1" y1="532.5" x2="223.1" y2="550.2" stroke="#7FA0C3" stroke-width="2.6"/><line x1="232.8" y1="531.9" x2="232.8" y2="547.9" stroke="#7FA0C3" stroke-width="2.6"/><line x1="313.4" y1="537.9" x2="313.4" y2="550.5" stroke="#7FA0C3" stroke-width="2.6"/><line x1="323.1" y1="532.5" x2="323.1" y2="550.2" stroke="#7FA0C3" stroke-width="2.6"/><line x1="332.8" y1="531.9" x2="332.8" y2="547.9" stroke="#7FA0C3" stroke-width="2.6"/><line x1="415.6" y1="537.9" x2="415.6" y2="550.5" stroke="#7FA0C3" stroke-width="2.6"/><line x1="425.3" y1="532.5" x2="425.3" y2="550.2" stroke="#7FA0C3" stroke-width="2.6"/><line x1="435.0" y1="531.9" x2="435.0" y2="547.9" stroke="#7FA0C3" stroke-width="2.6"/><line x1="515.3" y1="537.9" x2="515.3" y2="550.5" stroke="#7FA0C3" stroke-width="2.6"/><line x1="525.0" y1="532.5" x2="525.0" y2="550.2" stroke="#7FA0C3" stroke-width="2.6"/><line x1="534.7" y1="531.9" x2="534.7" y2="547.7" stroke="#7FA0C3" stroke-width="2.6"/><line x1="263.4" y1="531.5" x2="263.4" y2="548.9" stroke="#7FA0C3" stroke-width="2.6"/><line x1="273.1" y1="533.7" x2="273.1" y2="550.4" stroke="#7FA0C3" stroke-width="2.6"/><line x1="363.4" y1="531.5" x2="363.4" y2="548.9" stroke="#7FA0C3" stroke-width="2.6"/><line x1="373.1" y1="533.7" x2="373.1" y2="550.4" stroke="#7FA0C3" stroke-width="2.6"/><line x1="465.6" y1="531.5" x2="465.6" y2="548.9" stroke="#7FA0C3" stroke-width="2.6"/><line x1="475.3" y1="533.7" x2="475.3" y2="550.4" stroke="#7FA0C3" stroke-width="2.6"/><line x1="564.9" y1="531.5" x2="564.9" y2="548.8" stroke="#7FA0C3" stroke-width="2.6"/><line x1="574.6" y1="533.7" x2="574.6" y2="550.4" stroke="#7FA0C3" stroke-width="2.6"/><polygon points="214.2,550.7 215.2,550.9 216.2,551.0 217.2,551.1 218.2,551.2 219.2,551.3 220.2,551.3 221.3,551.4 222.3,551.4 223.3,551.5 224.4,551.5 225.4,551.4 226.5,551.4 227.5,551.3 228.6,551.1 229.7,551.0 230.8,550.8 231.9,550.5 233.0,550.2 234.1,549.9 235.2,549.5 236.3,549.1 237.4,548.6 238.5,548.2 239.7,547.7 240.8,547.1 241.9,546.5 243.0,546.0 244.1,545.3 245.1,544.6 246.1,543.9 247.1,543.2 248.1,542.5 249.1,541.8 250.1,541.1 251.1,540.4 252.0,539.8 253.0,539.1 253.9,538.5 254.9,538.0 255.8,537.4 256.7,537.0 257.6,536.5 258.5,536.1 259.3,535.8 260.2,535.5 261.0,535.3 261.8,535.1 262.7,534.9 263.5,534.8 264.3,534.8 265.1,534.8 265.9,534.9 266.7,535.0 267.5,535.1 268.3,535.3 269.1,535.6 270.0,535.9 270.9,536.3 271.8,536.7 272.7,537.1 273.6,537.6 274.5,538.2 275.4,538.8 276.4,539.4 277.4,540.0 278.3,540.7 279.3,541.4 280.3,542.1 281.3,542.8 282.3,543.5 283.3,544.2 284.3,544.9 285.4,545.6 286.4,546.3 287.4,547.0 288.5,547.6 289.5,548.3 290.6,548.9 291.7,549.5 292.8,550.0 293.9,550.5 295.0,551.0 296.0,551.4 297.2,551.8 298.3,552.1 299.4,552.4 300.5,552.7 301.6,552.9 302.7,553.1 303.7,553.3 304.8,553.4 305.9,553.6 307.0,553.6 308.0,553.7 309.1,553.7 310.1,553.8 311.2,553.8 312.2,553.8 313.2,553.8 314.2,553.8 315.2,553.8 316.2,553.8 317.2,553.8 318.3,553.8 319.3,553.8 320.3,553.7 321.4,553.7 322.4,553.6 323.5,553.5 324.6,553.4 325.7,553.3 326.8,553.1 327.9,552.9 329.0,552.6 330.1,552.3 331.2,552.0 332.3,551.6 333.4,551.2 334.5,550.8 335.6,550.3 336.7,549.8 337.7,549.2 338.8,548.6 339.9,548.0 340.9,547.4 342.0,546.7 343.0,546.0 344.1,545.3 345.1,544.6 346.1,543.9 347.1,543.2 348.1,542.5 349.1,541.8 350.1,541.1 351.1,540.4 352.0,539.8 353.0,539.1 353.9,538.5 354.9,538.0 355.8,537.4 356.7,537.0 357.6,536.5 358.5,536.1 359.3,535.8 360.2,535.5 361.0,535.3 361.8,535.1 362.7,534.9 363.5,534.8 364.3,534.8 365.1,534.8 365.9,534.9 366.7,535.0 367.5,535.1 368.3,535.3 369.1,535.6 370.0,535.9 370.9,536.3 371.8,536.7 372.7,537.1 373.6,537.6 374.5,538.2 375.4,538.8 376.4,539.4 377.4,540.0 378.3,540.7 379.3,541.4 380.3,542.1 381.3,542.8 382.3,543.5 383.3,544.2 384.3,544.9 385.4,545.6 386.4,546.3 387.4,547.0 388.5,547.6 389.5,548.3 390.6,548.9 391.7,549.5 392.8,550.0 393.9,550.5 395.0,551.0 396.0,551.4 397.2,551.8 398.3,552.1 399.4,552.4 400.5,552.7 401.6,552.9 402.7,553.1 403.7,553.3 404.8,553.4 405.9,553.6 407.0,553.6 408.0,553.7 409.1,553.7 410.1,553.8 411.2,553.8 412.2,553.8 413.2,553.8 414.2,553.8 415.2,553.8 416.2,553.8 417.2,553.8 418.2,553.8 419.2,553.8 420.2,553.8 421.3,553.8 422.3,553.7 423.4,553.7 424.4,553.6 425.5,553.5 426.6,553.4 427.7,553.3 428.8,553.1 429.9,552.9 431.0,552.7 432.1,552.4 433.2,552.1 434.3,551.7 435.4,551.3 436.5,550.9 437.6,550.4 438.6,549.9 439.7,549.3 440.8,548.8 441.9,548.2 442.9,547.5 444.0,546.9 445.0,546.2 446.1,545.5 447.1,544.8 448.1,544.1 449.1,543.3 450.1,542.6 451.1,541.9 452.1,541.2 453.1,540.5 454.0,539.9 455.0,539.2 455.9,538.6 456.9,538.1 457.8,537.5 458.7,537.0 459.6,536.6 460.5,536.2 461.4,535.9 462.2,535.6 463.1,535.3 463.9,535.1 464.7,535.0 465.5,534.9 466.3,534.8 467.1,534.8 467.9,534.9 468.7,535.0 469.5,535.1 470.3,535.3 471.2,535.6 472.0,535.9 472.9,536.2 473.8,536.6 474.7,537.0 475.6,537.5 476.5,538.1 477.5,538.6 478.4,539.2 479.4,539.9 480.3,540.5 481.3,541.2 482.3,541.9 483.3,542.6 484.3,543.3 485.3,544.1 486.3,544.8 487.3,545.5 488.4,546.2 489.4,546.9 490.5,547.5 491.5,548.2 492.6,548.8 493.7,549.3 494.8,549.9 495.8,550.4 496.9,550.9 498.0,551.3 499.1,551.7 500.2,552.1 501.3,552.4 502.4,552.7 503.5,552.9 504.6,553.1 505.7,553.3 506.8,553.4 507.9,553.5 509.0,553.6 510.0,553.7 511.1,553.7 512.1,553.8 513.2,553.8 514.2,553.8 515.2,553.8 516.2,553.8 517.2,553.8 518.2,553.8 519.2,553.8 520.3,553.8 521.3,553.7 522.4,553.7 523.4,553.6 524.5,553.6 525.6,553.5 526.6,553.3 527.7,553.2 528.8,553.0 529.9,552.7 531.0,552.5 532.1,552.2 533.2,551.8 534.3,551.4 535.4,551.0 536.5,550.5 537.6,550.0 538.7,549.5 539.8,548.9 540.8,548.3 541.9,547.7 543.0,547.1 544.0,546.4 545.0,545.7 546.1,545.0 547.1,544.3 548.1,543.6 549.1,542.8 550.1,542.1 551.1,541.4 552.1,540.7 553.1,540.1 554.0,539.4 555.0,538.8 555.9,538.2 556.8,537.7 557.7,537.2 558.6,536.7 559.5,536.3 560.4,536.0 561.3,535.6 562.1,535.4 562.9,535.2 563.8,535.0 564.6,534.9 565.4,534.8 566.2,534.8 567.0,534.8 567.8,534.9 568.6,535.1 569.4,535.2 570.2,535.5 571.1,535.8 571.9,536.1 572.8,536.5 573.7,536.9 574.6,537.4 575.5,537.9 576.5,538.5 577.4,539.1 578.4,539.7 579.3,540.3 580.3,541.0 581.3,541.6 582.4,542.3 583.4,542.9 584.5,543.6 585.6,544.2 586.6,544.8 587.7,545.5 588.8,546.1 589.9,546.6 591.0,547.2 592.1,547.7 593.2,548.2 594.2,548.7 595.3,549.1 596.4,549.5 597.5,549.9 598.6,550.2 599.7,550.4 600.8,550.7 601.8,550.9 602.9,551.0 604.0,551.1 605.0,551.2 606.1,551.3 607.1,551.3 608.1,551.3 609.1,551.3 610.2,551.2 611.2,551.2 612.2,551.1 613.2,551.0 614.2,550.9 615.2,550.8 616.2,550.8 616.3,550.7 616.3,550.3 616.2,550.2 615.2,550.2 614.2,550.1 613.2,550.0 612.2,549.9 611.2,549.8 610.2,549.6 609.3,549.5 608.3,549.3 607.3,549.2 606.3,549.0 605.4,548.7 604.4,548.5 603.5,548.2 602.6,547.9 601.6,547.6 600.7,547.2 599.8,546.8 598.9,546.4 598.0,545.9 597.1,545.4 596.2,544.9 595.2,544.3 594.3,543.7 593.4,543.1 592.5,542.4 591.6,541.7 590.7,541.0 589.8,540.3 588.8,539.5 587.9,538.7 587.0,538.0 586.0,537.2 585.1,536.4 584.1,535.6 583.1,534.9 582.0,534.2 581.0,533.5 579.9,532.8 578.9,532.2 577.8,531.6 576.7,531.0 575.6,530.5 574.5,530.0 573.3,529.6 572.2,529.2 571.0,528.8 569.8,528.6 568.6,528.4 567.4,528.3 566.2,528.2 565.0,528.2 563.8,528.3 562.6,528.5 561.5,528.7 560.3,529.0 559.1,529.4 558.0,529.8 556.9,530.3 555.8,530.8 554.7,531.4 553.6,532.0 552.5,532.6 551.4,533.2 550.4,533.9 549.3,534.6 548.3,535.3 547.3,536.0 546.3,536.8 545.3,537.5 544.3,538.2 543.3,538.9 542.3,539.6 541.4,540.2 540.4,540.9 539.4,541.5 538.5,542.1 537.6,542.6 536.6,543.1 535.7,543.6 534.8,544.1 533.9,544.5 533.0,544.9 532.1,545.2 531.2,545.6 530.3,545.8 529.4,546.1 528.5,546.3 527.6,546.5 526.7,546.7 525.8,546.8 524.8,546.9 523.9,547.0 523.0,547.1 522.0,547.1 521.1,547.1 520.1,547.2 519.2,547.2 518.2,547.2 517.2,547.2 516.2,547.2 515.2,547.2 514.2,547.2 513.2,547.2 512.3,547.2 511.3,547.1 510.4,547.1 509.4,547.0 508.5,547.0 507.6,546.9 506.7,546.8 505.8,546.6 504.9,546.4 504.0,546.2 503.1,546.0 502.2,545.8 501.3,545.5 500.4,545.1 499.5,544.8 498.6,544.4 497.6,544.0 496.7,543.5 495.8,543.0 494.9,542.5 493.9,541.9 493.0,541.3 492.0,540.7 491.1,540.0 490.1,539.4 489.1,538.7 488.1,538.0 487.1,537.3 486.1,536.5 485.1,535.8 484.1,535.1 483.0,534.4 482.0,533.7 480.9,533.0 479.9,532.4 478.8,531.8 477.7,531.2 476.6,530.6 475.5,530.1 474.4,529.7 473.2,529.3 472.1,528.9 470.9,528.6 469.7,528.4 468.5,528.3 467.3,528.2 466.1,528.2 464.9,528.3 463.7,528.4 462.5,528.6 461.3,528.9 460.2,529.3 459.0,529.7 457.9,530.1 456.8,530.6 455.7,531.2 454.6,531.8 453.5,532.4 452.5,533.0 451.4,533.7 450.4,534.4 449.3,535.1 448.3,535.8 447.3,536.5 446.3,537.3 445.3,538.0 444.3,538.7 443.3,539.4 442.3,540.0 441.4,540.7 440.4,541.3 439.5,541.9 438.5,542.5 437.6,543.0 436.7,543.5 435.8,544.0 434.8,544.4 433.9,544.8 433.0,545.1 432.1,545.5 431.2,545.8 430.3,546.0 429.4,546.2 428.5,546.4 427.6,546.6 426.7,546.8 425.8,546.9 424.9,547.0 424.0,547.0 423.0,547.1 422.1,547.1 421.1,547.2 420.2,547.2 419.2,547.2 418.2,547.2 417.2,547.2 416.2,547.2 415.2,547.2 414.2,547.2 413.2,547.2 412.2,547.2 411.2,547.2 410.3,547.2 409.3,547.1 408.4,547.1 407.4,547.1 406.5,547.0 405.6,546.9 404.7,546.8 403.7,546.6 402.8,546.5 401.9,546.3 401.0,546.1 400.1,545.8 399.2,545.5 398.4,545.2 397.4,544.9 396.5,544.5 395.6,544.0 394.7,543.6 393.8,543.1 392.9,542.6 391.9,542.0 391.0,541.4 390.0,540.8 389.0,540.2 388.1,539.5 387.1,538.8 386.1,538.1 385.1,537.4 384.1,536.7 383.1,536.0 382.1,535.3 381.0,534.5 380.0,533.9 379.0,533.2 377.9,532.5 376.8,531.9 375.7,531.3 374.6,530.7 373.5,530.2 372.4,529.8 371.3,529.4 370.1,529.0 368.9,528.7 367.7,528.5 366.5,528.3 365.3,528.2 364.1,528.2 362.9,528.3 361.7,528.4 360.6,528.6 359.4,528.9 358.2,529.2 357.1,529.6 355.9,530.0 354.8,530.5 353.7,531.1 352.6,531.7 351.5,532.3 350.5,532.9 349.4,533.6 348.4,534.3 347.3,535.0 346.3,535.7 345.3,536.4 344.3,537.1 343.3,537.8 342.3,538.5 341.3,539.2 340.3,539.9 339.4,540.5 338.4,541.2 337.5,541.8 336.5,542.3 335.6,542.9 334.7,543.4 333.7,543.9 332.8,544.3 331.9,544.7 331.0,545.1 330.1,545.4 329.2,545.7 328.3,546.0 327.4,546.2 326.5,546.4 325.6,546.6 324.7,546.7 323.8,546.8 322.9,546.9 322.0,547.0 321.0,547.1 320.1,547.1 319.1,547.2 318.1,547.2 317.2,547.2 316.2,547.2 315.2,547.2 314.2,547.2 313.2,547.2 312.2,547.2 311.2,547.2 310.3,547.2 309.3,547.1 308.4,547.1 307.4,547.1 306.5,547.0 305.6,546.9 304.7,546.8 303.7,546.6 302.8,546.5 301.9,546.3 301.0,546.1 300.1,545.8 299.2,545.5 298.4,545.2 297.4,544.9 296.5,544.5 295.6,544.0 294.7,543.6 293.8,543.1 292.9,542.6 291.9,542.0 291.0,541.4 290.0,540.8 289.0,540.2 288.1,539.5 287.1,538.8 286.1,538.1 285.1,537.4 284.1,536.7 283.1,536.0 282.1,535.3 281.0,534.5 280.0,533.9 279.0,533.2 277.9,532.5 276.8,531.9 275.7,531.3 274.6,530.7 273.5,530.2 272.4,529.8 271.3,529.4 270.1,529.0 268.9,528.7 267.7,528.5 266.5,528.3 265.3,528.2 264.1,528.2 262.9,528.3 261.7,528.4 260.6,528.6 259.4,528.9 258.2,529.2 257.1,529.6 255.9,530.0 254.8,530.5 253.7,531.1 252.6,531.7 251.5,532.3 250.5,532.9 249.4,533.6 248.4,534.3 247.3,535.0 246.3,535.7 245.3,536.4 244.3,537.1 243.3,537.8 242.3,538.5 241.3,539.2 240.3,539.9 239.4,540.6 238.5,541.4 237.6,542.1 236.7,542.7 235.9,543.4 235.0,544.0 234.1,544.5 233.2,545.1 232.3,545.6 231.4,546.1 230.5,546.5 229.6,546.9 228.7,547.3 227.8,547.7 226.9,548.0 225.9,548.3 225.0,548.6 224.0,548.8 223.1,549.0 222.1,549.2 221.1,549.4 220.2,549.5 219.2,549.7 218.2,549.8 217.2,549.9 216.2,550.0 215.2,550.1 214.2,550.3" fill="#2E3F4F"/><polygon points="264.4,534.8 265.3,534.8 266.1,534.9 266.9,535.0 267.7,535.2 268.6,535.4 269.4,535.7 270.3,536.0 271.1,536.4 272.0,536.8 272.9,537.3 273.9,537.8 274.8,538.4 275.7,538.9 276.7,539.6 277.6,540.2 278.6,540.9 279.6,541.6 280.6,542.3 281.6,543.0 282.6,543.7 283.6,544.4 284.6,545.1 285.7,545.8 286.7,546.5 287.7,547.2 288.8,547.8 289.9,548.5 290.9,549.1 292.0,549.6 293.1,550.1 294.2,550.6 295.3,551.1 296.4,551.5 297.5,551.9 298.6,552.2 299.7,552.5 300.8,552.8 301.9,553.0 303.0,553.2 304.1,553.4 305.2,553.5 306.2,553.6 307.3,553.7 308.4,553.7 309.4,553.8 310.4,553.8 311.5,553.8 312.5,553.8 313.5,553.8 314.5,553.8 314.8,553.8 314.8,547.2 314.5,547.2 313.5,547.2 312.5,547.2 311.5,547.2 310.6,547.2 309.6,547.2 308.6,547.1 307.7,547.1 306.8,547.0 305.8,546.9 304.9,546.8 304.0,546.7 303.1,546.5 302.2,546.3 301.3,546.1 300.4,545.9 299.5,545.6 298.6,545.3 297.7,545.0 296.8,544.6 295.9,544.2 295.0,543.7 294.1,543.2 293.1,542.7 292.2,542.2 291.3,541.6 290.3,541.0 289.3,540.4 288.4,539.7 287.4,539.0 286.4,538.3 285.4,537.6 284.4,536.9 283.4,536.2 282.4,535.5 281.4,534.8 280.3,534.1 279.3,533.4 278.2,532.7 277.1,532.1 276.1,531.5 275.0,530.9 273.9,530.4 272.7,529.9 271.6,529.5 270.4,529.1 269.3,528.8 268.1,528.5 266.9,528.3 265.7,528.2 264.6,528.2" fill="#35495C"/><polygon points="364.4,534.8 365.3,534.8 366.1,534.9 366.9,535.0 367.7,535.2 368.6,535.4 369.4,535.7 370.3,536.0 371.1,536.4 372.0,536.8 372.9,537.3 373.9,537.8 374.8,538.4 375.7,538.9 376.7,539.6 377.6,540.2 378.6,540.9 379.6,541.6 380.6,542.3 381.6,543.0 382.6,543.7 383.6,544.4 384.6,545.1 385.7,545.8 386.7,546.5 387.7,547.2 388.8,547.8 389.9,548.5 390.9,549.1 392.0,549.6 393.1,550.1 394.2,550.6 395.3,551.1 396.4,551.5 397.5,551.9 398.6,552.2 399.7,552.5 400.8,552.8 401.9,553.0 403.0,553.2 404.1,553.4 405.2,553.5 406.2,553.6 407.3,553.7 408.4,553.7 409.4,553.8 410.4,553.8 411.5,553.8 412.5,553.8 413.5,553.8 414.5,553.8 414.8,553.8 414.8,547.2 414.5,547.2 413.5,547.2 412.5,547.2 411.5,547.2 410.6,547.2 409.6,547.2 408.6,547.1 407.7,547.1 406.8,547.0 405.8,546.9 404.9,546.8 404.0,546.7 403.1,546.5 402.2,546.3 401.3,546.1 400.4,545.9 399.5,545.6 398.6,545.3 397.7,545.0 396.8,544.6 395.9,544.2 395.0,543.7 394.1,543.2 393.1,542.7 392.2,542.2 391.3,541.6 390.3,541.0 389.3,540.4 388.4,539.7 387.4,539.0 386.4,538.3 385.4,537.6 384.4,536.9 383.4,536.2 382.4,535.5 381.4,534.8 380.3,534.1 379.3,533.4 378.2,532.7 377.1,532.1 376.1,531.5 375.0,530.9 373.9,530.4 372.7,529.9 371.6,529.5 370.4,529.1 369.3,528.8 368.1,528.5 366.9,528.3 365.7,528.2 364.6,528.2" fill="#35495C"/><polygon points="466.6,534.8 467.5,534.8 468.3,534.9 469.1,535.0 469.9,535.2 470.8,535.4 471.6,535.7 472.5,536.0 473.3,536.4 474.2,536.8 475.1,537.3 476.1,537.8 477.0,538.4 477.9,538.9 478.9,539.6 479.8,540.2 480.8,540.9 481.8,541.6 482.8,542.3 483.8,543.0 484.8,543.7 485.8,544.4 486.8,545.1 487.9,545.8 488.9,546.5 489.9,547.2 491.0,547.8 492.1,548.5 493.1,549.1 494.2,549.6 495.3,550.1 496.4,550.6 497.5,551.1 498.6,551.5 499.7,551.9 500.8,552.2 501.9,552.5 503.0,552.8 504.1,553.0 505.2,553.2 506.3,553.4 507.4,553.5 508.4,553.6 509.5,553.7 510.6,553.7 511.6,553.8 512.6,553.8 513.7,553.8 514.7,553.8 515.7,553.8 516.7,553.8 517.0,553.8 517.0,547.2 516.7,547.2 515.7,547.2 514.7,547.2 513.7,547.2 512.8,547.2 511.8,547.2 510.8,547.1 509.9,547.1 509.0,547.0 508.0,546.9 507.1,546.8 506.2,546.7 505.3,546.5 504.4,546.3 503.5,546.1 502.6,545.9 501.7,545.6 500.8,545.3 499.9,545.0 499.0,544.6 498.1,544.2 497.2,543.7 496.3,543.2 495.3,542.7 494.4,542.2 493.5,541.6 492.5,541.0 491.5,540.4 490.6,539.7 489.6,539.0 488.6,538.3 487.6,537.6 486.6,536.9 485.6,536.2 484.6,535.5 483.6,534.8 482.5,534.1 481.5,533.4 480.4,532.7 479.3,532.1 478.3,531.5 477.2,530.9 476.1,530.4 474.9,529.9 473.8,529.5 472.6,529.1 471.5,528.8 470.3,528.5 469.1,528.3 467.9,528.2 466.8,528.2" fill="#35495C"/><polygon points="565.9,534.8 566.8,534.8 567.6,534.9 568.4,535.0 569.2,535.2 570.1,535.4 570.9,535.7 571.8,536.0 572.6,536.4 573.5,536.8 574.4,537.3 575.4,537.8 576.3,538.4 577.2,538.9 578.2,539.6 579.1,540.2 580.1,540.9 580.4,541.1 584.2,535.7 583.9,535.5 582.9,534.8 581.8,534.1 580.8,533.4 579.7,532.7 578.6,532.1 577.6,531.5 576.5,530.9 575.4,530.4 574.2,529.9 573.1,529.5 571.9,529.1 570.8,528.8 569.6,528.5 568.4,528.3 567.2,528.2 566.1,528.2" fill="#35495C"/><polygon points="178.7,550.7 179.7,550.8 180.7,550.9 181.7,551.0 182.7,551.1 183.7,551.2 184.7,551.2 185.7,551.3 186.8,551.3 187.8,551.3 188.8,551.3 189.9,551.2 190.9,551.1 192.0,551.0 193.1,550.9 194.1,550.7 195.2,550.5 196.3,550.2 197.4,549.9 198.5,549.5 199.6,549.2 200.6,548.7 201.7,548.3 202.8,547.8 203.9,547.3 205.0,546.7 206.1,546.1 207.2,545.5 208.3,544.9 209.3,544.3 210.4,543.6 211.5,543.0 212.5,542.3 213.6,541.7 214.6,541.1 215.6,540.4 216.5,539.8 217.5,539.1 218.4,538.5 219.4,538.0 220.3,537.4 221.2,537.0 222.1,536.5 223.0,536.1 223.8,535.8 224.7,535.5 225.5,535.3 226.3,535.1 227.2,534.9 228.0,534.8 228.8,534.8 229.6,534.8 230.4,534.9 231.2,535.0 232.0,535.1 232.8,535.3 233.6,535.6 234.5,535.9 235.4,536.3 236.3,536.7 237.2,537.1 238.1,537.6 239.0,538.2 239.9,538.8 240.9,539.4 241.9,540.0 242.8,540.7 243.8,541.4 244.8,542.1 245.8,542.8 246.8,543.5 247.8,544.2 248.8,544.9 249.9,545.6 250.9,546.3 251.9,547.0 253.0,547.6 254.0,548.3 255.1,548.9 256.2,549.5 257.3,550.0 258.4,550.5 259.5,551.0 260.5,551.4 261.7,551.8 262.8,552.1 263.9,552.4 265.0,552.7 266.1,552.9 267.2,553.1 268.2,553.3 269.3,553.4 270.4,553.6 271.5,553.6 272.5,553.7 273.6,553.7 274.6,553.8 275.7,553.8 276.7,553.8 277.7,553.8 278.7,553.8 279.7,553.8 280.7,553.8 281.7,553.8 282.8,553.8 283.8,553.8 284.8,553.7 285.9,553.7 286.9,553.6 288.0,553.5 289.1,553.4 290.2,553.3 291.3,553.1 292.4,552.9 293.5,552.6 294.6,552.3 295.7,552.0 296.8,551.6 297.9,551.2 299.0,550.8 300.1,550.3 301.2,549.8 302.2,549.2 303.3,548.6 304.4,548.0 305.4,547.4 306.5,546.7 307.5,546.0 308.6,545.3 309.6,544.6 310.6,543.9 311.6,543.2 312.6,542.5 313.6,541.8 314.6,541.1 315.6,540.4 316.5,539.8 317.5,539.1 318.4,538.5 319.4,538.0 320.3,537.4 321.2,537.0 322.1,536.5 323.0,536.1 323.8,535.8 324.7,535.5 325.5,535.3 326.3,535.1 327.2,534.9 328.0,534.8 328.8,534.8 329.6,534.8 330.4,534.9 331.2,535.0 332.0,535.1 332.8,535.3 333.6,535.6 334.5,535.9 335.4,536.3 336.3,536.7 337.2,537.1 338.1,537.6 339.0,538.2 339.9,538.8 340.9,539.4 341.9,540.0 342.8,540.7 343.8,541.4 344.8,542.1 345.8,542.8 346.8,543.5 347.8,544.2 348.8,544.9 349.9,545.6 350.9,546.3 351.9,547.0 353.0,547.6 354.0,548.3 355.1,548.9 356.2,549.5 357.3,550.0 358.4,550.5 359.5,551.0 360.5,551.4 361.7,551.8 362.8,552.1 363.9,552.4 365.0,552.7 366.1,552.9 367.2,553.1 368.2,553.3 369.3,553.4 370.4,553.6 371.5,553.6 372.5,553.7 373.6,553.7 374.6,553.8 375.7,553.8 376.7,553.8 377.7,553.8 378.7,553.8 379.7,553.8 380.7,553.8 381.7,553.8 382.7,553.8 383.7,553.8 384.7,553.8 385.8,553.8 386.8,553.7 387.9,553.7 388.9,553.6 390.0,553.5 391.1,553.4 392.2,553.3 393.3,553.1 394.4,552.9 395.5,552.7 396.6,552.4 397.7,552.1 398.8,551.7 399.9,551.3 401.0,550.9 402.1,550.4 403.1,549.9 404.2,549.3 405.3,548.8 406.4,548.2 407.4,547.5 408.5,546.9 409.5,546.2 410.6,545.5 411.6,544.8 412.6,544.1 413.6,543.3 414.6,542.6 415.6,541.9 416.6,541.2 417.6,540.5 418.5,539.9 419.5,539.2 420.4,538.6 421.4,538.1 422.3,537.5 423.2,537.0 424.1,536.6 425.0,536.2 425.9,535.9 426.7,535.6 427.6,535.3 428.4,535.1 429.2,535.0 430.0,534.9 430.8,534.8 431.6,534.8 432.4,534.9 433.2,535.0 434.0,535.1 434.8,535.3 435.7,535.6 436.5,535.9 437.4,536.2 438.3,536.6 439.2,537.0 440.1,537.5 441.0,538.1 442.0,538.6 442.9,539.2 443.9,539.9 444.8,540.5 445.8,541.2 446.8,541.9 447.8,542.6 448.8,543.3 449.8,544.1 450.8,544.8 451.8,545.5 452.9,546.2 453.9,546.9 455.0,547.5 456.0,548.2 457.1,548.8 458.2,549.3 459.3,549.9 460.3,550.4 461.4,550.9 462.5,551.3 463.6,551.7 464.7,552.1 465.8,552.4 466.9,552.7 468.0,552.9 469.1,553.1 470.2,553.3 471.3,553.4 472.4,553.5 473.5,553.6 474.5,553.7 475.6,553.7 476.6,553.8 477.7,553.8 478.7,553.8 479.7,553.8 480.7,553.8 481.7,553.8 482.7,553.8 483.7,553.8 484.8,553.8 485.8,553.8 486.8,553.7 487.9,553.7 489.0,553.6 490.0,553.5 491.1,553.4 492.2,553.2 493.3,553.1 494.4,552.8 495.5,552.6 496.6,552.3 497.7,552.0 498.8,551.6 499.9,551.2 501.0,550.7 502.1,550.2 503.2,549.7 504.3,549.2 505.3,548.6 506.4,548.0 507.4,547.3 508.5,546.7 509.5,546.0 510.6,545.3 511.6,544.6 512.6,543.9 513.6,543.1 514.6,542.4 515.6,541.7 516.6,541.0 517.6,540.3 518.5,539.7 519.5,539.1 520.4,538.5 521.4,537.9 522.3,537.4 523.2,536.9 524.1,536.5 525.0,536.1 525.8,535.8 526.7,535.5 527.5,535.2 528.3,535.1 529.1,534.9 529.9,534.8 530.7,534.8 531.5,534.8 532.3,534.9 533.1,535.0 534.0,535.2 534.8,535.4 535.6,535.6 536.5,536.0 537.4,536.3 538.3,536.7 539.2,537.2 540.1,537.7 541.0,538.2 541.9,538.8 542.9,539.4 543.8,540.1 544.8,540.7 545.8,541.4 546.8,542.1 547.8,542.8 548.8,543.6 549.8,544.3 550.8,545.0 551.9,545.6 553.0,546.2 554.1,546.8 555.2,547.4 556.3,547.9 557.4,548.4 558.5,548.9 559.6,549.3 560.7,549.7 561.8,550.0 563.0,550.4 564.1,550.6 565.2,550.9 566.2,551.0 567.3,551.2 568.4,551.3 569.5,551.4 570.5,551.4 571.6,551.5 572.6,551.4 573.6,551.4 574.7,551.4 575.7,551.3 576.7,551.2 577.7,551.1 578.7,551.0 579.7,550.9 580.7,550.8 581.2,550.7 581.2,550.3 580.7,550.2 579.7,550.1 578.7,550.0 577.7,549.9 576.7,549.7 575.7,549.6 574.7,549.4 573.8,549.3 572.8,549.1 571.8,548.9 570.9,548.7 569.9,548.4 569.0,548.1 568.1,547.8 567.2,547.5 566.2,547.1 565.3,546.7 564.4,546.3 563.6,545.9 562.7,545.4 561.8,544.8 560.9,544.3 560.0,543.7 559.1,543.0 558.2,542.4 557.3,541.7 556.4,541.0 555.5,540.3 554.6,539.6 553.6,538.9 552.6,538.2 551.6,537.5 550.6,536.8 549.6,536.0 548.6,535.3 547.6,534.6 546.5,533.9 545.5,533.2 544.4,532.6 543.3,532.0 542.2,531.4 541.1,530.8 540.0,530.3 538.9,529.8 537.8,529.4 536.6,529.0 535.4,528.7 534.3,528.5 533.1,528.3 531.9,528.2 530.7,528.2 529.5,528.3 528.3,528.4 527.1,528.6 525.9,528.8 524.7,529.2 523.6,529.6 522.4,530.0 521.3,530.5 520.2,531.0 519.1,531.6 518.0,532.2 517.0,532.8 515.9,533.5 514.9,534.2 513.8,534.9 512.8,535.6 511.8,536.3 510.8,537.0 509.8,537.8 508.8,538.5 507.8,539.2 506.8,539.8 505.9,540.5 504.9,541.1 504.0,541.7 503.0,542.3 502.1,542.8 501.1,543.3 500.2,543.8 499.3,544.3 498.4,544.7 497.5,545.0 496.6,545.4 495.7,545.7 494.8,545.9 493.9,546.2 493.0,546.4 492.1,546.6 491.2,546.7 490.3,546.8 489.4,546.9 488.4,547.0 487.5,547.1 486.6,547.1 485.6,547.2 484.6,547.2 483.7,547.2 482.7,547.2 481.7,547.2 480.7,547.2 479.7,547.2 478.7,547.2 477.7,547.2 476.8,547.2 475.8,547.1 474.9,547.1 473.9,547.0 473.0,547.0 472.1,546.9 471.2,546.8 470.3,546.6 469.4,546.4 468.5,546.2 467.6,546.0 466.7,545.8 465.8,545.5 464.9,545.1 464.0,544.8 463.1,544.4 462.1,544.0 461.2,543.5 460.3,543.0 459.4,542.5 458.4,541.9 457.5,541.3 456.5,540.7 455.6,540.0 454.6,539.4 453.6,538.7 452.6,538.0 451.6,537.3 450.6,536.5 449.6,535.8 448.6,535.1 447.5,534.4 446.5,533.7 445.4,533.0 444.4,532.4 443.3,531.8 442.2,531.2 441.1,530.6 440.0,530.1 438.9,529.7 437.7,529.3 436.6,528.9 435.4,528.6 434.2,528.4 433.0,528.3 431.8,528.2 430.6,528.2 429.4,528.3 428.2,528.4 427.0,528.6 425.8,528.9 424.7,529.3 423.5,529.7 422.4,530.1 421.3,530.6 420.2,531.2 419.1,531.8 418.0,532.4 417.0,533.0 415.9,533.7 414.9,534.4 413.8,535.1 412.8,535.8 411.8,536.5 410.8,537.3 409.8,538.0 408.8,538.7 407.8,539.4 406.8,540.0 405.9,540.7 404.9,541.3 404.0,541.9 403.0,542.5 402.1,543.0 401.2,543.5 400.3,544.0 399.3,544.4 398.4,544.8 397.5,545.1 396.6,545.5 395.7,545.8 394.8,546.0 393.9,546.2 393.0,546.4 392.1,546.6 391.2,546.8 390.3,546.9 389.4,547.0 388.5,547.0 387.5,547.1 386.6,547.1 385.6,547.2 384.7,547.2 383.7,547.2 382.7,547.2 381.7,547.2 380.7,547.2 379.7,547.2 378.7,547.2 377.7,547.2 376.7,547.2 375.7,547.2 374.8,547.2 373.8,547.1 372.9,547.1 371.9,547.1 371.0,547.0 370.1,546.9 369.2,546.8 368.2,546.6 367.3,546.5 366.4,546.3 365.5,546.1 364.6,545.8 363.7,545.5 362.9,545.2 361.9,544.9 361.0,544.5 360.1,544.0 359.2,543.6 358.3,543.1 357.4,542.6 356.4,542.0 355.5,541.4 354.5,540.8 353.5,540.2 352.6,539.5 351.6,538.8 350.6,538.1 349.6,537.4 348.6,536.7 347.6,536.0 346.6,535.3 345.5,534.5 344.5,533.9 343.5,533.2 342.4,532.5 341.3,531.9 340.2,531.3 339.1,530.7 338.0,530.2 336.9,529.8 335.8,529.4 334.6,529.0 333.4,528.7 332.2,528.5 331.0,528.3 329.8,528.2 328.6,528.2 327.4,528.3 326.2,528.4 325.1,528.6 323.9,528.9 322.7,529.2 321.6,529.6 320.4,530.0 319.3,530.5 318.2,531.1 317.1,531.7 316.0,532.3 315.0,532.9 313.9,533.6 312.9,534.3 311.8,535.0 310.8,535.7 309.8,536.4 308.8,537.1 307.8,537.8 306.8,538.5 305.8,539.2 304.8,539.9 303.9,540.5 302.9,541.2 302.0,541.8 301.0,542.3 300.1,542.9 299.2,543.4 298.2,543.9 297.3,544.3 296.4,544.7 295.5,545.1 294.6,545.4 293.7,545.7 292.8,546.0 291.9,546.2 291.0,546.4 290.1,546.6 289.2,546.7 288.3,546.8 287.4,546.9 286.5,547.0 285.5,547.1 284.6,547.1 283.6,547.2 282.6,547.2 281.7,547.2 280.7,547.2 279.7,547.2 278.7,547.2 277.7,547.2 276.7,547.2 275.7,547.2 274.8,547.2 273.8,547.1 272.9,547.1 271.9,547.1 271.0,547.0 270.1,546.9 269.2,546.8 268.2,546.6 267.3,546.5 266.4,546.3 265.5,546.1 264.6,545.8 263.7,545.5 262.9,545.2 261.9,544.9 261.0,544.5 260.1,544.0 259.2,543.6 258.3,543.1 257.4,542.6 256.4,542.0 255.5,541.4 254.5,540.8 253.5,540.2 252.6,539.5 251.6,538.8 250.6,538.1 249.6,537.4 248.6,536.7 247.6,536.0 246.6,535.3 245.5,534.5 244.5,533.9 243.5,533.2 242.4,532.5 241.3,531.9 240.2,531.3 239.1,530.7 238.0,530.2 236.9,529.8 235.8,529.4 234.6,529.0 233.4,528.7 232.2,528.5 231.0,528.3 229.8,528.2 228.6,528.2 227.4,528.3 226.2,528.4 225.1,528.6 223.9,528.9 222.7,529.2 221.6,529.6 220.4,530.0 219.3,530.5 218.2,531.1 217.1,531.7 216.0,532.3 215.0,532.9 213.9,533.6 212.9,534.3 211.8,535.0 210.8,535.7 209.8,536.5 208.9,537.3 207.9,538.0 207.0,538.8 206.1,539.6 205.1,540.3 204.2,541.1 203.3,541.8 202.4,542.5 201.5,543.1 200.6,543.7 199.7,544.3 198.8,544.9 197.8,545.4 196.9,545.9 196.0,546.4 195.1,546.8 194.2,547.2 193.3,547.6 192.3,547.9 191.4,548.2 190.5,548.5 189.5,548.8 188.6,549.0 187.6,549.2 186.6,549.4 185.7,549.5 184.7,549.6 183.7,549.8 182.7,549.9 181.7,550.0 180.7,550.1 179.7,550.2 178.7,550.3" fill="#2E3F4F"/><polygon points="278.7,553.8 279.7,553.8 280.7,553.8 281.7,553.8 282.8,553.8 283.8,553.8 284.8,553.7 285.9,553.7 286.9,553.6 288.0,553.5 289.1,553.4 290.2,553.3 291.3,553.1 292.4,552.9 293.5,552.6 294.6,552.3 295.7,552.0 296.8,551.6 297.9,551.2 299.0,550.8 300.1,550.3 301.2,549.8 302.2,549.2 303.3,548.6 304.4,548.0 305.4,547.4 306.5,546.7 307.5,546.0 308.6,545.3 309.6,544.6 310.6,543.9 311.6,543.2 312.6,542.5 313.6,541.8 314.6,541.1 315.6,540.4 316.5,539.8 317.5,539.1 318.4,538.5 319.4,538.0 320.3,537.4 321.2,537.0 322.1,536.5 323.0,536.1 323.8,535.8 324.7,535.5 325.5,535.3 326.3,535.1 327.2,534.9 328.0,534.8 328.8,534.8 329.0,534.8 329.0,528.2 328.6,528.2 327.4,528.3 326.2,528.4 325.1,528.6 323.9,528.9 322.7,529.2 321.6,529.6 320.4,530.0 319.3,530.5 318.2,531.1 317.1,531.7 316.0,532.3 315.0,532.9 313.9,533.6 312.9,534.3 311.8,535.0 310.8,535.7 309.8,536.4 308.8,537.1 307.8,537.8 306.8,538.5 305.8,539.2 304.8,539.9 303.9,540.5 302.9,541.2 302.0,541.8 301.0,542.3 300.1,542.9 299.2,543.4 298.2,543.9 297.3,544.3 296.4,544.7 295.5,545.1 294.6,545.4 293.7,545.7 292.8,546.0 291.9,546.2 291.0,546.4 290.1,546.6 289.2,546.7 288.3,546.8 287.4,546.9 286.5,547.0 285.5,547.1 284.6,547.1 283.6,547.2 282.6,547.2 281.7,547.2 280.7,547.2 279.7,547.2 278.7,547.2" fill="#7391AF"/><polygon points="480.6,553.8 481.6,553.8 482.6,553.8 483.6,553.8 484.7,553.8 485.7,553.8 486.7,553.7 487.8,553.7 488.8,553.6 489.9,553.5 491.0,553.4 492.1,553.3 493.2,553.1 494.3,552.9 495.4,552.6 496.5,552.3 497.6,552.0 498.7,551.6 499.8,551.2 500.9,550.8 502.0,550.3 503.1,549.8 504.1,549.2 505.2,548.6 506.3,548.0 507.3,547.4 508.4,546.7 509.4,546.0 510.5,545.3 511.5,544.6 512.5,543.9 513.5,543.2 514.5,542.5 515.5,541.8 516.5,541.1 517.5,540.4 518.4,539.8 519.4,539.1 520.3,538.5 521.3,538.0 522.2,537.4 523.1,537.0 524.0,536.5 524.9,536.1 525.7,535.8 526.6,535.5 527.4,535.3 528.2,535.1 529.1,534.9 529.9,534.8 530.7,534.8 530.9,534.8 530.9,528.2 530.5,528.2 529.3,528.3 528.1,528.4 527.0,528.6 525.8,528.9 524.6,529.2 523.5,529.6 522.3,530.0 521.2,530.5 520.1,531.1 519.0,531.7 517.9,532.3 516.9,532.9 515.8,533.6 514.8,534.3 513.7,535.0 512.7,535.7 511.7,536.4 510.7,537.1 509.7,537.8 508.7,538.5 507.7,539.2 506.7,539.9 505.8,540.5 504.8,541.2 503.9,541.8 502.9,542.3 502.0,542.9 501.1,543.4 500.1,543.9 499.2,544.3 498.3,544.7 497.4,545.1 496.5,545.4 495.6,545.7 494.7,546.0 493.8,546.2 492.9,546.4 492.0,546.6 491.1,546.7 490.2,546.8 489.3,546.9 488.4,547.0 487.4,547.1 486.5,547.1 485.5,547.2 484.5,547.2 483.6,547.2 482.6,547.2 481.6,547.2 480.6,547.2" fill="#7391AF"/><polygon points="228.9,534.8 229.8,534.8 230.6,534.9 231.4,535.0 232.2,535.2 233.1,535.4 233.9,535.7 234.8,536.0 235.6,536.4 236.5,536.8 237.4,537.3 238.4,537.8 239.3,538.4 240.2,538.9 241.2,539.6 242.1,540.2 243.1,540.9 244.1,541.6 245.1,542.3 246.1,543.0 247.1,543.7 248.1,544.4 249.1,545.1 250.2,545.8 251.2,546.5 252.2,547.2 253.3,547.8 254.4,548.5 255.4,549.1 256.5,549.6 257.6,550.1 258.7,550.6 259.8,551.1 260.9,551.5 262.0,551.9 263.1,552.2 264.2,552.5 265.3,552.8 266.4,553.0 267.5,553.2 268.6,553.4 269.7,553.5 270.7,553.6 271.8,553.7 272.9,553.7 273.9,553.8 274.9,553.8 276.0,553.8 277.0,553.8 278.0,553.8 279.0,553.8 279.3,553.8 279.3,547.2 279.0,547.2 278.0,547.2 277.0,547.2 276.0,547.2 275.1,547.2 274.1,547.2 273.1,547.1 272.2,547.1 271.3,547.0 270.3,546.9 269.4,546.8 268.5,546.7 267.6,546.5 266.7,546.3 265.8,546.1 264.9,545.9 264.0,545.6 263.1,545.3 262.2,545.0 261.3,544.6 260.4,544.2 259.5,543.7 258.6,543.2 257.6,542.7 256.7,542.2 255.8,541.6 254.8,541.0 253.8,540.4 252.9,539.7 251.9,539.0 250.9,538.3 249.9,537.6 248.9,536.9 247.9,536.2 246.9,535.5 245.9,534.8 244.8,534.1 243.8,533.4 242.7,532.7 241.6,532.1 240.6,531.5 239.5,530.9 238.4,530.4 237.2,529.9 236.1,529.5 234.9,529.1 233.8,528.8 232.6,528.5 231.4,528.3 230.2,528.2 229.1,528.2" fill="#4A6580"/><polygon points="328.9,534.8 329.8,534.8 330.6,534.9 331.4,535.0 332.2,535.2 333.1,535.4 333.9,535.7 334.8,536.0 335.6,536.4 336.5,536.8 337.4,537.3 338.4,537.8 339.3,538.4 340.2,538.9 341.2,539.6 342.1,540.2 343.1,540.9 344.1,541.6 345.1,542.3 346.1,543.0 347.1,543.7 348.1,544.4 349.1,545.1 350.2,545.8 351.2,546.5 352.2,547.2 353.3,547.8 354.4,548.5 355.4,549.1 356.5,549.6 357.6,550.1 358.7,550.6 359.8,551.1 360.9,551.5 362.0,551.9 363.1,552.2 364.2,552.5 365.3,552.8 366.4,553.0 367.5,553.2 368.6,553.4 369.7,553.5 370.7,553.6 371.8,553.7 372.9,553.7 373.9,553.8 374.9,553.8 376.0,553.8 377.0,553.8 378.0,553.8 379.0,553.8 379.3,553.8 379.3,547.2 379.0,547.2 378.0,547.2 377.0,547.2 376.0,547.2 375.1,547.2 374.1,547.2 373.1,547.1 372.2,547.1 371.3,547.0 370.3,546.9 369.4,546.8 368.5,546.7 367.6,546.5 366.7,546.3 365.8,546.1 364.9,545.9 364.0,545.6 363.1,545.3 362.2,545.0 361.3,544.6 360.4,544.2 359.5,543.7 358.6,543.2 357.6,542.7 356.7,542.2 355.8,541.6 354.8,541.0 353.8,540.4 352.9,539.7 351.9,539.0 350.9,538.3 349.9,537.6 348.9,536.9 347.9,536.2 346.9,535.5 345.9,534.8 344.8,534.1 343.8,533.4 342.7,532.7 341.6,532.1 340.6,531.5 339.5,530.9 338.4,530.4 337.2,529.9 336.1,529.5 334.9,529.1 333.8,528.8 332.6,528.5 331.4,528.3 330.2,528.2 329.1,528.2" fill="#4A6580"/><polygon points="431.1,534.8 432.0,534.8 432.8,534.9 433.6,535.0 434.4,535.2 435.3,535.4 436.1,535.7 437.0,536.0 437.8,536.4 438.7,536.8 439.6,537.3 440.6,537.8 441.5,538.4 442.4,538.9 443.4,539.6 444.3,540.2 445.3,540.9 446.3,541.6 447.3,542.3 448.3,543.0 449.3,543.7 450.3,544.4 451.3,545.1 452.4,545.8 453.4,546.5 454.4,547.2 455.5,547.8 456.6,548.5 457.6,549.1 458.7,549.6 459.8,550.1 460.9,550.6 462.0,551.1 463.1,551.5 464.2,551.9 465.3,552.2 466.4,552.5 467.5,552.8 468.6,553.0 469.7,553.2 470.8,553.4 471.9,553.5 472.9,553.6 474.0,553.7 475.1,553.7 476.1,553.8 477.1,553.8 478.2,553.8 479.2,553.8 480.2,553.8 481.2,553.8 481.5,553.8 481.5,547.2 481.2,547.2 480.2,547.2 479.2,547.2 478.2,547.2 477.3,547.2 476.3,547.2 475.3,547.1 474.4,547.1 473.5,547.0 472.5,546.9 471.6,546.8 470.7,546.7 469.8,546.5 468.9,546.3 468.0,546.1 467.1,545.9 466.2,545.6 465.3,545.3 464.4,545.0 463.5,544.6 462.6,544.2 461.7,543.7 460.8,543.2 459.8,542.7 458.9,542.2 458.0,541.6 457.0,541.0 456.0,540.4 455.1,539.7 454.1,539.0 453.1,538.3 452.1,537.6 451.1,536.9 450.1,536.2 449.1,535.5 448.1,534.8 447.0,534.1 446.0,533.4 444.9,532.7 443.8,532.1 442.8,531.5 441.7,530.9 440.6,530.4 439.4,529.9 438.3,529.5 437.1,529.1 436.0,528.8 434.8,528.5 433.6,528.3 432.4,528.2 431.3,528.2" fill="#4A6580"/><polygon points="530.8,534.8 531.7,534.8 532.5,534.9 533.3,535.0 534.1,535.2 535.0,535.4 535.8,535.7 536.7,536.0 537.5,536.4 538.4,536.8 539.3,537.3 540.3,537.8 541.2,538.4 542.1,538.9 543.1,539.6 544.0,540.2 545.0,540.9 546.0,541.6 547.0,542.3 548.0,543.0 549.0,543.7 550.0,544.4 551.0,545.1 551.3,545.3 555.1,539.9 554.8,539.7 553.8,539.0 552.8,538.3 551.8,537.6 550.8,536.9 549.8,536.2 548.8,535.5 547.8,534.8 546.7,534.1 545.7,533.4 544.6,532.7 543.5,532.1 542.5,531.5 541.4,530.9 540.3,530.4 539.1,529.9 538.0,529.5 536.8,529.1 535.7,528.8 534.5,528.5 533.3,528.3 532.1,528.2 531.0,528.2" fill="#4A6580"/>
<ellipse cx="201.4" cy="520.3" rx="20.3" ry="14.8" fill="#F8C5BD" stroke="#EA8472" stroke-width="2" transform="rotate(5 201.4 520.3)" />
<text x="0.0" y="0.0" font-size="15.45" font-weight="bold" font-style="normal" fill="#000" text-anchor="middle" transform="translate(202 525.5) rotate(8)" stroke="#000" stroke-width="0.35">P65</text>
<ellipse cx="244.9" cy="514.7" rx="19.5" ry="15.2" fill="#F8C5BD" stroke="#EA8472" stroke-width="2" transform="rotate(-15 244.9 514.7)" />
<text x="0.0" y="0.0" font-size="15.45" font-weight="bold" font-style="normal" fill="#000" text-anchor="middle" transform="translate(245.5 520) rotate(-16)" stroke="#000" stroke-width="0.35">P50</text>
<ellipse cx="509.2" cy="489.8" rx="28.5" ry="14.8" fill="#B6CAEB" stroke="#4A7EBB" stroke-width="2" />
<text x="509.2" y="494.5" font-size="13.39" font-weight="bold" font-style="normal" fill="#000" text-anchor="middle"  stroke="#000" stroke-width="0.35">SMAD4</text>
<ellipse cx="511.2" cy="519.6" rx="28" ry="14" fill="#B6CAEB" stroke="#4A7EBB" stroke-width="2" transform="rotate(-4 511.2 519.6)" />
<text x="0.0" y="0.0" font-size="13.39" font-weight="bold" font-style="normal" fill="#000" text-anchor="middle" transform="translate(511.5 524.5) rotate(-5)" stroke="#000" stroke-width="0.35">SMAD2</text>
<ellipse cx="567.7" cy="516.3" rx="28.3" ry="13.7" fill="#B6CAEB" stroke="#4A7EBB" stroke-width="2" transform="rotate(3 567.7 516.3)" />
<text x="0.0" y="0.0" font-size="13.39" font-weight="bold" font-style="normal" fill="#000" text-anchor="middle" transform="translate(567.5 521) rotate(4)" stroke="#000" stroke-width="0.35">SMAD3</text>
<ellipse cx="537.9" cy="504.5" rx="7.98" ry="7.22" fill="#FFFF00" stroke="#5B7FA6" stroke-width="1.6"/>
<text x="537.9" y="508.5" font-size="11.33" font-weight="bold" font-style="normal" fill="#000" text-anchor="middle"  stroke="#000" stroke-width="0.35">P</text>
<ellipse cx="593" cy="502.6" rx="7.98" ry="7.22" fill="#FFFF00" stroke="#5B7FA6" stroke-width="1.6"/>
<text x="593.0" y="506.6" font-size="11.33" font-weight="bold" font-style="normal" fill="#000" text-anchor="middle"  stroke="#000" stroke-width="0.35">P</text>
<line x1="9.2" y1="574.5" x2="728.6" y2="574.5" stroke="#C55A11" stroke-width="4.6" stroke-dasharray="16.4,10.63"/>
<text x="12.8" y="603.0" font-size="22" font-weight="bold" font-style="normal" fill="#595959" text-anchor="start" transform="translate(12.8 603) scale(1.216 1) translate(-12.8 -603)" stroke="#595959" stroke-width="1.1">Extracellular</text>
<text x="13.3" y="213.3" font-size="22.5" font-weight="bold" font-style="normal" fill="#595959" text-anchor="start" transform="translate(13.3 213.3) scale(1.203 1) translate(-13.3 -213.3)" stroke="#595959" stroke-width="1.1">Intracellular</text>
<line x1="247.4" y1="554.7" x2="210.3" y2="604.6" stroke="#000" stroke-width="2.8" />
<polygon points="203.7,613.4 206.7,599.4 216.3,606.6" fill="#000"/>
<line x1="380.3" y1="558.0" x2="380.2" y2="616.2" stroke="#000" stroke-width="2.8" />
<polygon points="380.2,627.2 374.2,614.2 386.2,614.2" fill="#000"/>
<line x1="549.7" y1="557.2" x2="583.2" y2="610.9" stroke="#000" stroke-width="2.8" />
<polygon points="589.0,620.2 577.0,612.3 587.2,606.0" fill="#000"/>
<path d="M171.4 613.5 C175.4 614.9 178.2 615.4 182.7 619.8 C187.2 624.2 188.9 629.9 194.0 635.3 C199.1 640.7 200.1 642.9 208.0 646.6 C215.9 650.3 226.2 650.8 233.5 653.6 C240.8 656.4 242.5 656.7 244.7 660.7 C246.9 664.7 247.5 666.9 244.7 673.4 C241.9 679.9 236.8 685.2 230.6 693.1 C224.4 701.0 217.6 706.7 213.7 712.9 C209.8 719.1 210.6 718.6 210.9 724.2 C211.2 729.8 214.3 735.2 215.1 741.1 C215.9 747.0 217.6 751.0 215.1 753.8 C212.6 756.6 211.7 756.9 202.4 755.2 C193.1 753.5 180.4 747.9 168.5 745.4 C156.6 742.9 151.6 741.1 143.1 742.5 C134.6 743.9 130.7 749.3 126.2 752.4 C121.7 755.5 123.7 757.8 120.6 758.1 C117.5 758.4 114.7 757.8 110.7 753.8 C106.7 749.8 105.0 743.4 100.8 738.3 C96.6 733.2 94.3 729.8 89.5 728.4 C84.7 727.0 79.1 733.2 76.8 731.2 C74.5 729.2 78.2 722.4 78.2 718.5 C78.2 714.6 79.9 714.3 76.8 711.5 C73.7 708.7 66.1 707.2 62.7 704.4 C59.3 701.6 58.5 700.2 59.9 697.4 C61.3 694.6 64.2 694.5 69.8 690.3 C75.4 686.1 84.7 680.4 88.1 676.2 C91.5 672.0 88.7 672.0 86.7 669.2 C84.7 666.4 78.5 665.8 78.2 662.1 C77.9 658.4 79.7 657.6 85.3 650.8 C90.9 644.0 99.3 633.3 106.4 628.2 C113.5 623.1 113.3 627.4 120.6 625.4 C127.9 623.4 134.6 620.8 143.1 618.3 C151.6 615.8 157.2 613.7 162.9 612.7 C168.6 611.7 167.4 612.1 171.4 613.5Z" fill="#E4ECEC" stroke="#A6A6A6" stroke-width="2.5"/>
<text x="164.5" y="677.8" font-size="22.97" font-weight="bold" font-style="normal" fill="#C55A11" text-anchor="middle"  stroke="#C55A11" stroke-width="0.35">Inflammation</text>
<path d="M536.6 628.2 C538.7 626.7 543.2 626.8 548.9 628.2 C554.6 629.6 577.1 639.5 583.8 639.7 C590.5 639.9 597.3 633.8 604.8 630.0 C612.3 626.2 641.0 610.0 646.7 608.3 C652.4 606.6 652.3 610.3 651.9 616.0 C651.5 621.7 643.8 649.2 643.2 656.1 C642.6 663.0 639.2 669.8 646.7 673.6 C654.2 677.4 698.6 685.3 706.1 687.6 C713.6 689.9 711.7 690.5 709.6 692.8 C707.5 695.1 688.6 700.9 688.6 706.8 C688.6 712.7 707.5 736.7 709.6 741.7 C711.7 746.7 713.6 748.7 706.1 748.7 C698.6 748.7 658.0 743.6 646.7 741.7 C635.4 739.8 619.7 733.6 611.7 733.0 C603.7 732.4 586.6 733.8 580.3 736.5 C574.0 739.2 563.7 751.1 559.3 755.7 C554.9 760.3 546.5 773.3 543.6 775.0 C540.7 776.7 536.6 775.8 534.9 769.7 C533.2 763.6 531.7 730.6 529.6 724.3 C527.5 718.0 523.9 720.2 517.4 717.3 C510.9 714.4 480.3 702.7 475.5 699.8 C470.7 696.9 470.1 695.3 477.2 692.8 C484.3 690.3 528.4 685.2 534.9 678.9 C541.4 672.6 531.2 646.5 531.4 640.4 C531.6 634.3 534.5 629.7 536.6 628.2Z" fill="#DAE3F3" stroke="#B4C7E7" stroke-width="1.8"/>
<text x="597.8" y="678.2" font-size="22.66" font-weight="bold" font-style="normal" fill="#C55A11" text-anchor="middle"  stroke="#C55A11" stroke-width="0.35">HSC</text>
<text x="598.1" y="705.1" font-size="22.97" font-weight="bold" font-style="normal" fill="#C55A11" text-anchor="middle"  stroke="#C55A11" stroke-width="0.35">activation</text>
<path d="M319.5 640 C319.5 624.5, 322.8 624.5, 322.8 635 C322.8 646, 326.2 646, 326.2 640 C326.2 624.5, 329.5 624.5, 329.5 635 C329.5 646, 332.9 646, 332.9 640 C332.9 624.5, 336.2 624.5, 336.2 635 C336.2 646, 339.6 646, 339.6 640 C339.6 624.5, 342.9 624.5, 342.9 635 C342.9 646, 346.3 646, 346.3 640 C346.3 624.5, 349.6 624.5, 349.6 635 C349.6 646, 353.0 646, 353.0 640 C353.0 624.5, 356.3 624.5, 356.3 635 C356.3 646, 359.7 646, 359.7 640 C359.7 624.5, 363.0 624.5, 363.0 635 C363.0 646, 366.4 646, 366.4 640 C366.4 624.5, 369.7 624.5, 369.7 635 C369.7 646, 373.1 646, 373.1 640 C373.1 624.5, 376.4 624.5, 376.4 635 C376.4 646, 379.7 646, 379.7 640 C379.7 624.5, 383.1 624.5, 383.1 635 C383.1 646, 386.4 646, 386.4 640 C386.4 624.5, 389.8 624.5, 389.8 635 C389.8 646, 393.1 646, 393.1 640 C393.1 624.5, 396.5 624.5, 396.5 635 C396.5 646, 399.8 646, 399.8 640 C399.8 624.5, 403.2 624.5, 403.2 635 C403.2 646, 406.5 646, 406.5 640 C406.5 624.5, 409.9 624.5, 409.9 635 C409.9 646, 413.2 646, 413.2 640 C413.2 624.5, 416.6 624.5, 416.6 635 C416.6 646, 419.9 646, 419.9 640 C419.9 624.5, 423.3 624.5, 423.3 635 C423.3 646, 426.6 646, 426.6 640 C426.6 624.5, 430.0 624.5, 430.0 635 C430.0 646, 433.3 646, 433.3 640 C437.3 680, 448 720, 448.5 740 C449 755, 444 760, 430 761.5 L325 762 C312 761, 307 752, 307.5 737 C309 700, 319 670, 319.5 640Z" fill="#FDF0D5" stroke="#FFD966" stroke-width="2"/>
<text x="382.5" y="678.0" font-size="23.38" font-weight="bold" font-style="normal" fill="#C55A11" text-anchor="middle"  stroke="#C55A11" stroke-width="0.35">Oxidative</text>
<text x="382.5" y="704.6" font-size="23.38" font-weight="bold" font-style="normal" fill="#C55A11" text-anchor="middle"  stroke="#C55A11" stroke-width="0.35">Stress</text>
<defs><filter id="sh" x="-50%" y="-50%" width="200%" height="200%"><feGaussianBlur stdDeviation="2"/></filter></defs>
<ellipse cx="175" cy="706" rx="25" ry="13" fill="#6E6E6E" opacity="0.7" filter="url(#sh)"/>
<ellipse cx="175" cy="703" rx="24.5" ry="12.8" fill="#DCDEC9" stroke="#A39EA8" stroke-width="1.4"/>
<ellipse cx="348.6" cy="735.9" rx="25" ry="13" fill="#6E6E6E" opacity="0.7" filter="url(#sh)"/>
<ellipse cx="348.6" cy="732.9" rx="24.5" ry="12.8" fill="#DCDEC9" stroke="#A39EA8" stroke-width="1.4"/>
<ellipse cx="555.8" cy="732.5" rx="25" ry="13" fill="#6E6E6E" opacity="0.7" filter="url(#sh)"/>
<ellipse cx="555.8" cy="729.5" rx="24.5" ry="12.8" fill="#DCDEC9" stroke="#A39EA8" stroke-width="1.4"/>
<text x="180.2" y="793.3" font-size="26.06" font-weight="bold" font-style="normal" fill="#1F3864" text-anchor="middle"  stroke="#1F3864" stroke-width="0.35">Macrophage</text>
<text x="381.6" y="792.9" font-size="26.57" font-weight="bold" font-style="normal" fill="#1F3864" text-anchor="middle"  stroke="#1F3864" stroke-width="0.35">MPH</text>
<text x="594.3" y="793.8" font-size="26.16" font-weight="bold" font-style="normal" fill="#1F3864" text-anchor="middle"  stroke="#1F3864" stroke-width="0.35">LX-2</text>
<polyline points="175,807 175,820 598.4,820 598.4,806.5" fill="none" stroke="#843C0C" stroke-width="3"/>
<line x1="378.2" y1="820.0" x2="378.2" y2="849.0" stroke="#843C0C" stroke-width="3" />
<polygon points="378.2,858.0 372.7,847.0 383.7,847.0" fill="#843C0C"/>
<text x="379.3" y="884.7" font-size="25.34" font-weight="bold" font-style="normal" fill="#843C0C" text-anchor="middle"  stroke="#843C0C" stroke-width="0.35">Progression</text>
<defs><linearGradient id="pg" x1="0" y1="0" x2="1" y2="0"><stop offset="0" stop-color="#943B3D"/><stop offset="0.38" stop-color="#9A4040"/><stop offset="0.58" stop-color="#D4957A"/><stop offset="1" stop-color="#DA9E82"/></linearGradient></defs>
<polygon points="277,897 469,897 469,891.3 481,903.2 469,914.8 469,909.5 277,909.5" fill="url(#pg)" stroke="#A64B4B" stroke-width="1.2"/>
<path d="M133.0 932.5 C131.0 931.3 130.6 926.6 129.4 921.6 C128.2 916.6 126.7 908.8 125.7 902.3 C124.7 895.8 123.5 888.5 123.3 882.9 C123.1 877.2 123.3 873.0 124.5 868.4 C125.7 863.8 128.0 858.9 130.6 855.1 C133.2 851.3 136.4 848.0 140.2 845.4 C144.0 842.8 148.5 840.9 153.6 839.4 C158.7 837.9 163.8 836.8 170.5 836.5 C177.2 836.2 186.7 837.4 193.5 837.4 C200.3 837.4 205.3 836.8 211.6 836.5 C217.8 836.2 224.9 835.4 231.0 835.7 C237.1 836.0 243.5 837.0 247.9 838.1 C252.3 839.2 255.6 841.0 257.6 842.3 C259.6 843.6 260.4 844.4 260.0 846.1 C259.6 847.8 257.6 850.4 255.2 852.7 C252.8 855.0 249.1 857.1 245.5 859.9 C241.9 862.7 236.6 866.6 233.4 869.6 C230.2 872.6 228.1 875.6 226.1 878.1 C224.1 880.6 223.7 882.6 221.3 884.8 C218.9 887.0 214.8 889.4 211.6 891.4 C208.4 893.4 206.7 894.3 201.9 896.9 C197.1 899.5 189.8 903.4 182.6 907.1 C175.3 910.8 165.2 915.6 158.4 919.2 C151.6 922.8 145.7 926.7 141.5 928.9 C137.3 931.1 135.0 933.7 133.0 932.5Z" fill="#BD5150" stroke="#FFFFFF" stroke-width="1.6"/><defs><clipPath id="lv1"><path d="M133.0 932.5 C131.0 931.3 130.6 926.6 129.4 921.6 C128.2 916.6 126.7 908.8 125.7 902.3 C124.7 895.8 123.5 888.5 123.3 882.9 C123.1 877.2 123.3 873.0 124.5 868.4 C125.7 863.8 128.0 858.9 130.6 855.1 C133.2 851.3 136.4 848.0 140.2 845.4 C144.0 842.8 148.5 840.9 153.6 839.4 C158.7 837.9 163.8 836.8 170.5 836.5 C177.2 836.2 186.7 837.4 193.5 837.4 C200.3 837.4 205.3 836.8 211.6 836.5 C217.8 836.2 224.9 835.4 231.0 835.7 C237.1 836.0 243.5 837.0 247.9 838.1 C252.3 839.2 255.6 841.0 257.6 842.3 C259.6 843.6 260.4 844.4 260.0 846.1 C259.6 847.8 257.6 850.4 255.2 852.7 C252.8 855.0 249.1 857.1 245.5 859.9 C241.9 862.7 236.6 866.6 233.4 869.6 C230.2 872.6 228.1 875.6 226.1 878.1 C224.1 880.6 223.7 882.6 221.3 884.8 C218.9 887.0 214.8 889.4 211.6 891.4 C208.4 893.4 206.7 894.3 201.9 896.9 C197.1 899.5 189.8 903.4 182.6 907.1 C175.3 910.8 165.2 915.6 158.4 919.2 C151.6 922.8 145.7 926.7 141.5 928.9 C137.3 931.1 135.0 933.7 133.0 932.5Z"/></clipPath></defs><g clip-path="url(#lv1)"><path d="M120 922 C150 910, 190 893, 214 881 C226 872, 236 866, 262 848 L270 950 L110 950Z" fill="#A94647"/></g><path d="M128.1 892.6 C127.3 888.6 127.6 875.7 129.4 868.4 C131.2 861.1 134.2 853.4 139.0 849.0 C143.8 844.6 151.1 843.0 158.4 841.8 C165.7 840.6 178.2 841.0 182.6 841.8 C187.0 842.6 185.4 844.6 185.0 846.6 C184.6 848.6 183.8 851.9 180.2 853.9 C176.6 855.9 168.4 856.3 163.2 858.7 C157.9 861.1 151.9 864.8 148.7 868.4 C145.5 872.0 146.3 876.5 143.9 880.5 C141.5 884.5 136.8 890.6 134.2 892.6 C131.6 894.6 128.9 896.6 128.1 892.6Z" fill="#C86C6A"/><path d="M204.4 844.2 C207.4 842.4 216.8 840.0 223.7 839.4 C230.5 838.8 241.5 839.8 245.5 840.6 C249.5 841.4 251.1 843.0 247.9 844.2 C244.7 845.4 233.2 846.8 226.1 847.8 C219.0 848.8 209.2 850.8 205.6 850.2 C202.0 849.6 201.4 846.0 204.4 844.2Z" fill="#C86C6A"/><path d="M192.5 837.5 L200 837.3 L205.5 895 L199.5 897.3 Z" fill="#F7B455"/><path d="M523.9 928.9 C521.9 927.1 520.6 922.0 519.0 916.8 C517.4 911.5 515.2 903.4 514.2 897.4 C513.2 891.4 512.6 885.9 513.0 880.5 C513.4 875.1 514.4 869.6 516.6 864.8 C518.8 860.0 522.7 855.1 526.3 851.5 C529.9 847.9 533.6 845.1 538.4 843.0 C543.2 840.9 547.8 839.6 555.3 838.9 C562.8 838.2 575.5 839.2 583.2 838.9 C590.9 838.6 594.2 837.3 601.3 836.9 C608.3 836.5 618.6 836.2 625.5 836.5 C632.4 836.8 638.2 837.6 642.4 838.9 C646.6 840.2 650.1 842.1 650.9 844.2 C651.7 846.3 649.9 848.7 647.3 851.5 C644.7 854.3 639.4 857.7 635.2 861.1 C631.0 864.5 625.5 868.4 621.9 872.0 C618.3 875.6 616.4 879.9 613.4 882.9 C610.4 885.9 607.3 888.0 603.7 890.2 C600.1 892.4 597.2 893.4 591.6 896.2 C586.0 899.0 577.5 903.3 569.8 907.1 C562.1 910.9 552.0 915.8 545.6 919.2 C539.2 922.6 534.7 926.1 531.1 927.7 C527.5 929.3 525.9 930.7 523.9 928.9Z" fill="#C67A5B" stroke="#FFFFFF" stroke-width="1.6"/><defs><clipPath id="lv2"><path d="M523.9 928.9 C521.9 927.1 520.6 922.0 519.0 916.8 C517.4 911.5 515.2 903.4 514.2 897.4 C513.2 891.4 512.6 885.9 513.0 880.5 C513.4 875.1 514.4 869.6 516.6 864.8 C518.8 860.0 522.7 855.1 526.3 851.5 C529.9 847.9 533.6 845.1 538.4 843.0 C543.2 840.9 547.8 839.6 555.3 838.9 C562.8 838.2 575.5 839.2 583.2 838.9 C590.9 838.6 594.2 837.3 601.3 836.9 C608.3 836.5 618.6 836.2 625.5 836.5 C632.4 836.8 638.2 837.6 642.4 838.9 C646.6 840.2 650.1 842.1 650.9 844.2 C651.7 846.3 649.9 848.7 647.3 851.5 C644.7 854.3 639.4 857.7 635.2 861.1 C631.0 864.5 625.5 868.4 621.9 872.0 C618.3 875.6 616.4 879.9 613.4 882.9 C610.4 885.9 607.3 888.0 603.7 890.2 C600.1 892.4 597.2 893.4 591.6 896.2 C586.0 899.0 577.5 903.3 569.8 907.1 C562.1 910.9 552.0 915.8 545.6 919.2 C539.2 922.6 534.7 926.1 531.1 927.7 C527.5 929.3 525.9 930.7 523.9 928.9Z"/></clipPath></defs><g clip-path="url(#lv2)"><path d="M510 920 C545 906, 580 890, 604 878 C616 868, 628 860, 655 848 L660 950 L500 950Z" fill="#B86B4F"/><circle cx="533.6" cy="863.6" r="8.5" fill="#D99E82" opacity="0.45"/><circle cx="560.2" cy="874.4" r="4.8" fill="#D99E82" opacity="0.45"/><circle cx="577.1" cy="892.6" r="7.3" fill="#D99E82" opacity="0.45"/><circle cx="526.3" cy="890.2" r="7.3" fill="#D99E82" opacity="0.45"/><circle cx="532.3" cy="914.4" r="6.0" fill="#D99E82" opacity="0.45"/><circle cx="550.5" cy="909.5" r="3.6" fill="#D99E82" opacity="0.45"/><circle cx="543.2" cy="849.0" r="2.4" fill="#D99E82" opacity="0.45"/><circle cx="555.3" cy="858.7" r="2.9" fill="#D99E82" opacity="0.45"/><circle cx="632.8" cy="846.6" r="7.3" fill="#D99E82" opacity="0.45"/><circle cx="611.0" cy="870.8" r="5.3" fill="#D99E82" opacity="0.45"/><circle cx="602.5" cy="885.3" r="3.6" fill="#D99E82" opacity="0.45"/><circle cx="569.8" cy="846.6" r="4.8" fill="#D99E82" opacity="0.45"/><circle cx="521.5" cy="878.1" r="2.4" fill="#D99E82" opacity="0.45"/><circle cx="542.0" cy="902.3" r="1.9" fill="#D99E82" opacity="0.45"/><circle cx="598.9" cy="866.0" r="1.9" fill="#D99E82" opacity="0.45"/><path d="M532.3 865.9 Q536 873 541 874.5 Q546 876 551.6 876.6" fill="none" stroke="#AA5C40" stroke-width="2.7" stroke-linecap="round"/><path d="M541 874.5 Q530 877 521.5 884.1" fill="none" stroke="#AA5C40" stroke-width="2.7" stroke-linecap="round"/><path d="M571 849.7 Q572 857 568.8 861.6 Q564 866 558 865.9" fill="none" stroke="#AA5C40" stroke-width="2.7" stroke-linecap="round"/><path d="M568.8 861.6 Q574 868 576.3 876.6" fill="none" stroke="#AA5C40" stroke-width="2.7" stroke-linecap="round"/><path d="M564.5 882 Q563 887 561.3 889.5 Q556 894 547.3 893.8" fill="none" stroke="#AA5C40" stroke-width="2.7" stroke-linecap="round"/><path d="M561.3 889.5 Q565 896 564.5 902.4" fill="none" stroke="#AA5C40" stroke-width="2.7" stroke-linecap="round"/><path d="M623.7 843.3 Q617 845 614 848.7 Q608 856 598.9 859.4" fill="none" stroke="#AA5C40" stroke-width="2.7" stroke-linecap="round"/><path d="M614 850 Q614 858 618.3 863.7" fill="none" stroke="#AA5C40" stroke-width="2.7" stroke-linecap="round"/></g><path d="M583.2 838.9 L590.4 838.9 L596.5 893.8 L589.2 895.8 Z" fill="#F7B455"/>
<text x="109.0" y="971.0" font-size="25.5" font-weight="bold" font-style="normal" fill="#000" text-anchor="start" transform="translate(109 971) scale(1.189 1) translate(-109 -971)" stroke="#000" stroke-width="1.2">Normal liver</text>
<text x="482.0" y="971.0" font-size="25.5" font-weight="bold" font-style="normal" fill="#000" text-anchor="start" transform="translate(482 971) scale(1.182 1) translate(-482 -971)" stroke="#000" stroke-width="1.2">Fibrotic liver</text></svg></body></html>
